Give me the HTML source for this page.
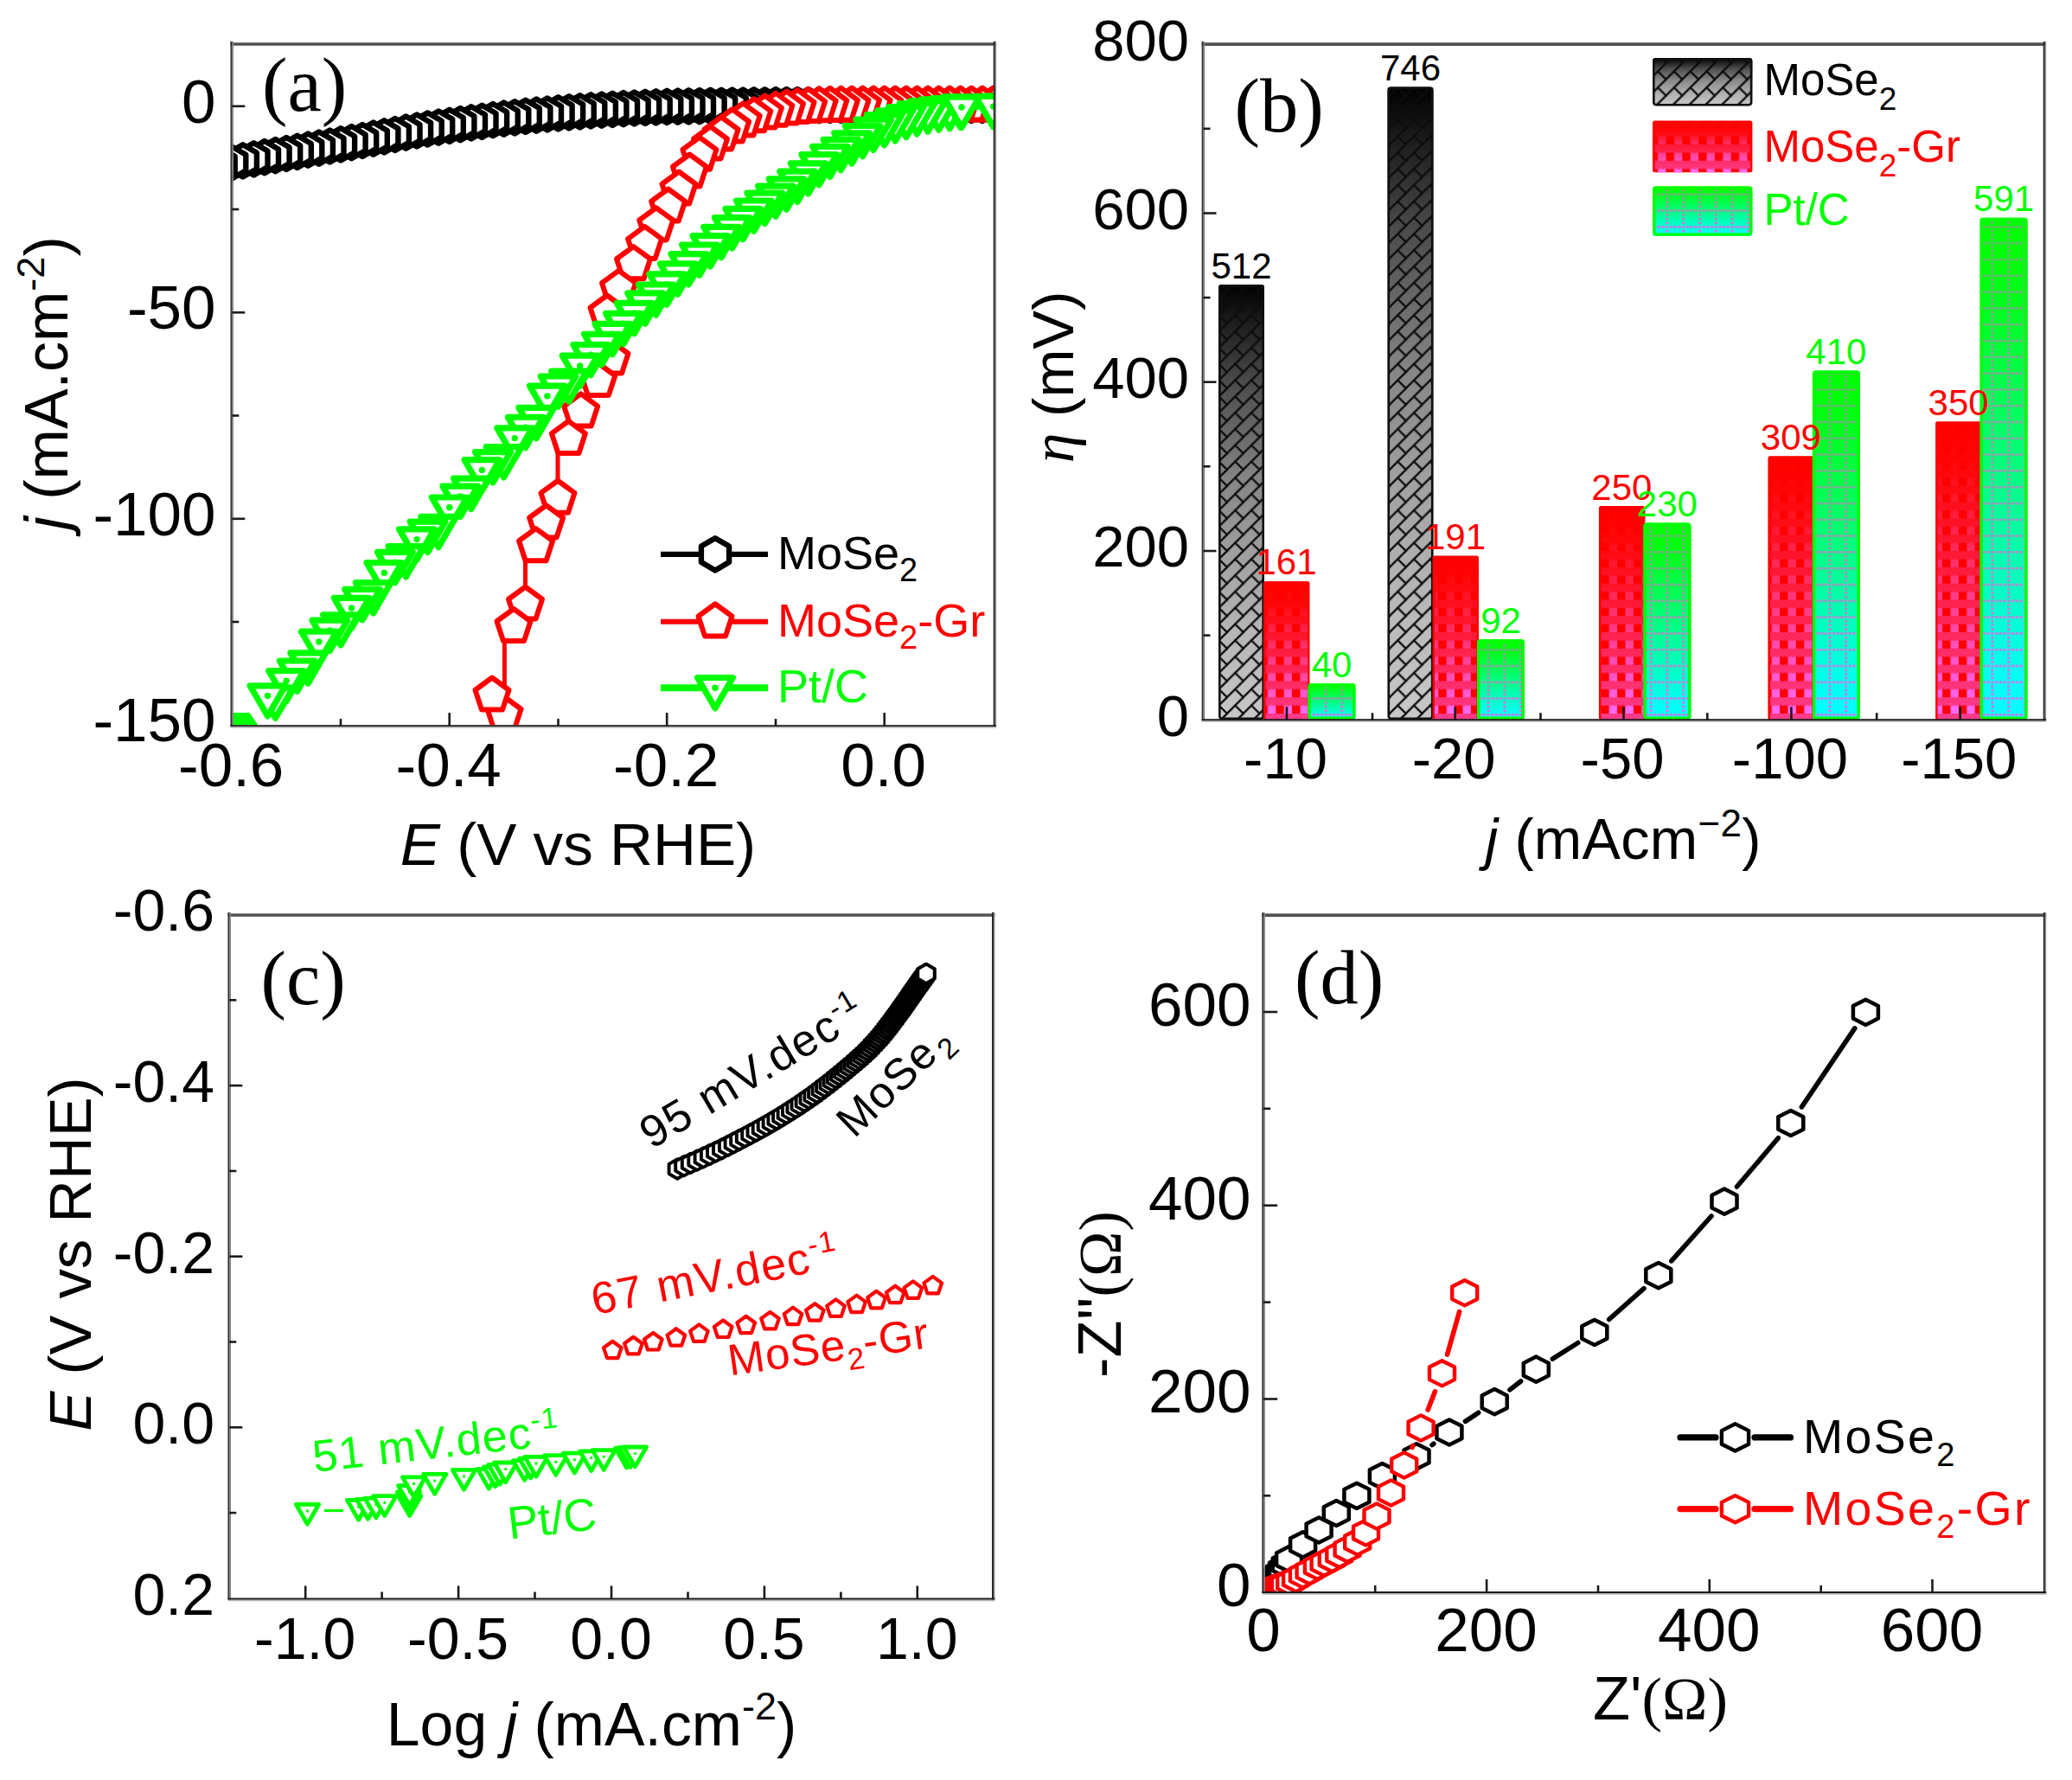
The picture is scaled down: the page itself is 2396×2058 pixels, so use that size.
<!DOCTYPE html><html><head><meta charset="utf-8"><title>HER figure</title><style>html,body{margin:0;padding:0;background:#fff}svg{display:block}</style></head><body><svg width="2396" height="2058" viewBox="0 0 2396 2058"><rect width="2396" height="2058" fill="#fff"/><defs><clipPath id="clipA"><rect x="268.3" y="51" width="882" height="787.3"/></clipPath></defs><g clip-path="url(#clipA)"><polyline points="1161,121.5 1148.5,121.5 1135.9,121.5 1123.3,121.5 1110.7,121.5 1098.2,121.5 1085.6,121.5 1073,121.5 1060.4,121.5 1047.9,121.5 1035.3,121.5 1022.7,121.5 1010.1,121.5 997.6,121.5 985,121.5 972.4,121.5 959.8,121.5 947.2,121.6 934.7,121.6 922.1,121.6 909.5,121.6 897,121.7 884.4,121.8 871.8,121.9 859.2,122 846.7,122.2 834.1,122.3 821.5,122.4 808.9,122.6 796.4,122.8 783.8,123.1 771.2,123.4 758.6,123.9 746.1,124.4 733.5,125 720.9,125.6 708.3,126.3 695.8,127.1 683.2,127.9 670.6,128.8 658,129.8 645.5,130.9 632.9,132 620.3,133.2 607.7,134.4 595.2,135.8 582.6,137.2 570,138.7 557.4,140.3 544.9,141.9 532.3,143.6 519.7,145.3 507.1,147.1 494.6,149 482,151 469.4,153.2 456.8,155.5 444.3,157.8 431.7,160.2 419.1,162.5 406.5,164.7 394,166.9 381.4,169 368.8,171.1 356.2,173.2 343.7,175.4 331.1,177.5 318.5,179.6 305.9,181.7 293.4,183.8 280.8,185.9 268.2,188 255.6,190.1" fill="none" stroke="#000000" stroke-width="6" stroke-linejoin="round" stroke-linecap="butt" /><polygon points="1161,102.9 1144.9,112.2 1144.9,130.8 1161,140.1 1177.1,130.8 1177.1,112.2" fill="#fff" stroke="#000000" stroke-width="6.4" stroke-linejoin="round"/><polygon points="1148.5,102.9 1132.3,112.2 1132.3,130.8 1148.5,140.1 1164.6,130.8 1164.6,112.2" fill="#fff" stroke="#000000" stroke-width="6.4" stroke-linejoin="round"/><polygon points="1135.9,102.9 1119.8,112.2 1119.8,130.8 1135.9,140.1 1152,130.8 1152,112.2" fill="#fff" stroke="#000000" stroke-width="6.4" stroke-linejoin="round"/><polygon points="1123.3,102.9 1107.2,112.2 1107.2,130.8 1123.3,140.1 1139.4,130.8 1139.4,112.2" fill="#fff" stroke="#000000" stroke-width="6.4" stroke-linejoin="round"/><polygon points="1110.7,102.9 1094.6,112.2 1094.6,130.8 1110.7,140.1 1126.8,130.8 1126.8,112.2" fill="#fff" stroke="#000000" stroke-width="6.4" stroke-linejoin="round"/><polygon points="1098.2,102.9 1082,112.2 1082,130.8 1098.2,140.1 1114.3,130.8 1114.3,112.2" fill="#fff" stroke="#000000" stroke-width="6.4" stroke-linejoin="round"/><polygon points="1085.6,102.9 1069.5,112.2 1069.5,130.8 1085.6,140.1 1101.7,130.8 1101.7,112.2" fill="#fff" stroke="#000000" stroke-width="6.4" stroke-linejoin="round"/><polygon points="1073,102.9 1056.9,112.2 1056.9,130.8 1073,140.1 1089.1,130.8 1089.1,112.2" fill="#fff" stroke="#000000" stroke-width="6.4" stroke-linejoin="round"/><polygon points="1060.4,102.9 1044.3,112.2 1044.3,130.8 1060.4,140.1 1076.5,130.8 1076.5,112.2" fill="#fff" stroke="#000000" stroke-width="6.4" stroke-linejoin="round"/><polygon points="1047.9,102.9 1031.7,112.2 1031.7,130.8 1047.9,140.1 1064,130.8 1064,112.2" fill="#fff" stroke="#000000" stroke-width="6.4" stroke-linejoin="round"/><polygon points="1035.3,102.9 1019.2,112.2 1019.2,130.8 1035.3,140.1 1051.4,130.8 1051.4,112.2" fill="#fff" stroke="#000000" stroke-width="6.4" stroke-linejoin="round"/><polygon points="1022.7,102.9 1006.6,112.2 1006.6,130.8 1022.7,140.1 1038.8,130.8 1038.8,112.2" fill="#fff" stroke="#000000" stroke-width="6.4" stroke-linejoin="round"/><polygon points="1010.1,102.9 994,112.2 994,130.8 1010.1,140.1 1026.2,130.8 1026.2,112.2" fill="#fff" stroke="#000000" stroke-width="6.4" stroke-linejoin="round"/><polygon points="997.6,102.9 981.4,112.2 981.4,130.8 997.6,140.1 1013.7,130.8 1013.7,112.2" fill="#fff" stroke="#000000" stroke-width="6.4" stroke-linejoin="round"/><polygon points="985,102.9 968.9,112.2 968.9,130.8 985,140.1 1001.1,130.8 1001.1,112.2" fill="#fff" stroke="#000000" stroke-width="6.4" stroke-linejoin="round"/><polygon points="972.4,102.9 956.3,112.2 956.3,130.8 972.4,140.1 988.5,130.8 988.5,112.2" fill="#fff" stroke="#000000" stroke-width="6.4" stroke-linejoin="round"/><polygon points="959.8,102.9 943.7,112.2 943.7,130.8 959.8,140.1 975.9,130.8 975.9,112.2" fill="#fff" stroke="#000000" stroke-width="6.4" stroke-linejoin="round"/><polygon points="947.2,103 931.1,112.3 931.1,130.9 947.2,140.2 963.4,130.9 963.4,112.3" fill="#fff" stroke="#000000" stroke-width="6.4" stroke-linejoin="round"/><polygon points="934.7,103 918.6,112.3 918.6,130.9 934.7,140.2 950.8,130.9 950.8,112.3" fill="#fff" stroke="#000000" stroke-width="6.4" stroke-linejoin="round"/><polygon points="922.1,103 906,112.3 906,130.9 922.1,140.2 938.2,130.9 938.2,112.3" fill="#fff" stroke="#000000" stroke-width="6.4" stroke-linejoin="round"/><polygon points="909.5,103 893.4,112.3 893.4,130.9 909.5,140.2 925.6,130.9 925.6,112.3" fill="#fff" stroke="#000000" stroke-width="6.4" stroke-linejoin="round"/><polygon points="897,103.1 880.8,112.4 880.8,131 897,140.3 913.1,131 913.1,112.4" fill="#fff" stroke="#000000" stroke-width="6.4" stroke-linejoin="round"/><polygon points="884.4,103.2 868.3,112.5 868.3,131.1 884.4,140.4 900.5,131.1 900.5,112.5" fill="#fff" stroke="#000000" stroke-width="6.4" stroke-linejoin="round"/><polygon points="871.8,103.3 855.7,112.6 855.7,131.2 871.8,140.5 887.9,131.2 887.9,112.6" fill="#fff" stroke="#000000" stroke-width="6.4" stroke-linejoin="round"/><polygon points="859.2,103.4 843.1,112.7 843.1,131.3 859.2,140.6 875.3,131.3 875.3,112.7" fill="#fff" stroke="#000000" stroke-width="6.4" stroke-linejoin="round"/><polygon points="846.7,103.6 830.5,112.9 830.5,131.5 846.7,140.8 862.8,131.5 862.8,112.9" fill="#fff" stroke="#000000" stroke-width="6.4" stroke-linejoin="round"/><polygon points="834.1,103.7 818,113 818,131.6 834.1,140.9 850.2,131.6 850.2,113" fill="#fff" stroke="#000000" stroke-width="6.4" stroke-linejoin="round"/><polygon points="821.5,103.8 805.4,113.1 805.4,131.7 821.5,141 837.6,131.7 837.6,113.1" fill="#fff" stroke="#000000" stroke-width="6.4" stroke-linejoin="round"/><polygon points="808.9,104 792.8,113.3 792.8,131.9 808.9,141.2 825,131.9 825,113.3" fill="#fff" stroke="#000000" stroke-width="6.4" stroke-linejoin="round"/><polygon points="796.4,104.2 780.2,113.5 780.2,132.1 796.4,141.4 812.5,132.1 812.5,113.5" fill="#fff" stroke="#000000" stroke-width="6.4" stroke-linejoin="round"/><polygon points="783.8,104.5 767.7,113.8 767.7,132.4 783.8,141.7 799.9,132.4 799.9,113.8" fill="#fff" stroke="#000000" stroke-width="6.4" stroke-linejoin="round"/><polygon points="771.2,104.8 755.1,114.1 755.1,132.7 771.2,142 787.3,132.7 787.3,114.1" fill="#fff" stroke="#000000" stroke-width="6.4" stroke-linejoin="round"/><polygon points="758.6,105.3 742.5,114.6 742.5,133.2 758.6,142.5 774.7,133.2 774.7,114.6" fill="#fff" stroke="#000000" stroke-width="6.4" stroke-linejoin="round"/><polygon points="746.1,105.8 729.9,115.1 729.9,133.7 746.1,143 762.2,133.7 762.2,115.1" fill="#fff" stroke="#000000" stroke-width="6.4" stroke-linejoin="round"/><polygon points="733.5,106.4 717.4,115.7 717.4,134.3 733.5,143.6 749.6,134.3 749.6,115.7" fill="#fff" stroke="#000000" stroke-width="6.4" stroke-linejoin="round"/><polygon points="720.9,107 704.8,116.3 704.8,134.9 720.9,144.2 737,134.9 737,116.3" fill="#fff" stroke="#000000" stroke-width="6.4" stroke-linejoin="round"/><polygon points="708.3,107.7 692.2,117 692.2,135.6 708.3,144.9 724.4,135.6 724.4,117" fill="#fff" stroke="#000000" stroke-width="6.4" stroke-linejoin="round"/><polygon points="695.8,108.5 679.6,117.8 679.6,136.4 695.8,145.7 711.9,136.4 711.9,117.8" fill="#fff" stroke="#000000" stroke-width="6.4" stroke-linejoin="round"/><polygon points="683.2,109.3 667.1,118.6 667.1,137.2 683.2,146.5 699.3,137.2 699.3,118.6" fill="#fff" stroke="#000000" stroke-width="6.4" stroke-linejoin="round"/><polygon points="670.6,110.2 654.5,119.5 654.5,138.1 670.6,147.4 686.7,138.1 686.7,119.5" fill="#fff" stroke="#000000" stroke-width="6.4" stroke-linejoin="round"/><polygon points="658,111.2 641.9,120.5 641.9,139.1 658,148.4 674.1,139.1 674.1,120.5" fill="#fff" stroke="#000000" stroke-width="6.4" stroke-linejoin="round"/><polygon points="645.5,112.3 629.3,121.6 629.3,140.2 645.5,149.5 661.6,140.2 661.6,121.6" fill="#fff" stroke="#000000" stroke-width="6.4" stroke-linejoin="round"/><polygon points="632.9,113.4 616.8,122.7 616.8,141.3 632.9,150.6 649,141.3 649,122.7" fill="#fff" stroke="#000000" stroke-width="6.4" stroke-linejoin="round"/><polygon points="620.3,114.6 604.2,123.9 604.2,142.5 620.3,151.8 636.4,142.5 636.4,123.9" fill="#fff" stroke="#000000" stroke-width="6.4" stroke-linejoin="round"/><polygon points="607.7,115.8 591.6,125.1 591.6,143.7 607.7,153 623.8,143.7 623.8,125.1" fill="#fff" stroke="#000000" stroke-width="6.4" stroke-linejoin="round"/><polygon points="595.2,117.2 579,126.5 579,145.1 595.2,154.4 611.3,145.1 611.3,126.5" fill="#fff" stroke="#000000" stroke-width="6.4" stroke-linejoin="round"/><polygon points="582.6,118.6 566.5,127.9 566.5,146.5 582.6,155.8 598.7,146.5 598.7,127.9" fill="#fff" stroke="#000000" stroke-width="6.4" stroke-linejoin="round"/><polygon points="570,120.1 553.9,129.4 553.9,148 570,157.3 586.1,148 586.1,129.4" fill="#fff" stroke="#000000" stroke-width="6.4" stroke-linejoin="round"/><polygon points="557.4,121.7 541.3,131 541.3,149.6 557.4,158.9 573.5,149.6 573.5,131" fill="#fff" stroke="#000000" stroke-width="6.4" stroke-linejoin="round"/><polygon points="544.9,123.3 528.7,132.6 528.7,151.2 544.9,160.5 561,151.2 561,132.6" fill="#fff" stroke="#000000" stroke-width="6.4" stroke-linejoin="round"/><polygon points="532.3,125 516.2,134.3 516.2,152.9 532.3,162.2 548.4,152.9 548.4,134.3" fill="#fff" stroke="#000000" stroke-width="6.4" stroke-linejoin="round"/><polygon points="519.7,126.7 503.6,136 503.6,154.6 519.7,163.9 535.8,154.6 535.8,136" fill="#fff" stroke="#000000" stroke-width="6.4" stroke-linejoin="round"/><polygon points="507.1,128.5 491,137.8 491,156.4 507.1,165.7 523.2,156.4 523.2,137.8" fill="#fff" stroke="#000000" stroke-width="6.4" stroke-linejoin="round"/><polygon points="494.6,130.4 478.4,139.7 478.4,158.3 494.6,167.6 510.7,158.3 510.7,139.7" fill="#fff" stroke="#000000" stroke-width="6.4" stroke-linejoin="round"/><polygon points="482,132.4 465.9,141.7 465.9,160.3 482,169.6 498.1,160.3 498.1,141.7" fill="#fff" stroke="#000000" stroke-width="6.4" stroke-linejoin="round"/><polygon points="469.4,134.6 453.3,143.9 453.3,162.5 469.4,171.8 485.5,162.5 485.5,143.9" fill="#fff" stroke="#000000" stroke-width="6.4" stroke-linejoin="round"/><polygon points="456.8,136.9 440.7,146.2 440.7,164.8 456.8,174.1 472.9,164.8 472.9,146.2" fill="#fff" stroke="#000000" stroke-width="6.4" stroke-linejoin="round"/><polygon points="444.3,139.2 428.1,148.5 428.1,167.1 444.3,176.4 460.4,167.1 460.4,148.5" fill="#fff" stroke="#000000" stroke-width="6.4" stroke-linejoin="round"/><polygon points="431.7,141.6 415.6,150.9 415.6,169.5 431.7,178.8 447.8,169.5 447.8,150.9" fill="#fff" stroke="#000000" stroke-width="6.4" stroke-linejoin="round"/><polygon points="419.1,143.9 403,153.2 403,171.8 419.1,181.1 435.2,171.8 435.2,153.2" fill="#fff" stroke="#000000" stroke-width="6.4" stroke-linejoin="round"/><polygon points="406.5,146.1 390.4,155.4 390.4,174 406.5,183.3 422.6,174 422.6,155.4" fill="#fff" stroke="#000000" stroke-width="6.4" stroke-linejoin="round"/><polygon points="394,148.3 377.8,157.6 377.8,176.2 394,185.5 410.1,176.2 410.1,157.6" fill="#fff" stroke="#000000" stroke-width="6.4" stroke-linejoin="round"/><polygon points="381.4,150.4 365.3,159.7 365.3,178.3 381.4,187.6 397.5,178.3 397.5,159.7" fill="#fff" stroke="#000000" stroke-width="6.4" stroke-linejoin="round"/><polygon points="368.8,152.5 352.7,161.8 352.7,180.4 368.8,189.7 384.9,180.4 384.9,161.8" fill="#fff" stroke="#000000" stroke-width="6.4" stroke-linejoin="round"/><polygon points="356.2,154.6 340.1,163.9 340.1,182.5 356.2,191.8 372.3,182.5 372.3,163.9" fill="#fff" stroke="#000000" stroke-width="6.4" stroke-linejoin="round"/><polygon points="343.7,156.8 327.5,166.1 327.5,184.7 343.7,194 359.8,184.7 359.8,166.1" fill="#fff" stroke="#000000" stroke-width="6.4" stroke-linejoin="round"/><polygon points="331.1,158.9 315,168.2 315,186.8 331.1,196.1 347.2,186.8 347.2,168.2" fill="#fff" stroke="#000000" stroke-width="6.4" stroke-linejoin="round"/><polygon points="318.5,161 302.4,170.3 302.4,188.9 318.5,198.2 334.6,188.9 334.6,170.3" fill="#fff" stroke="#000000" stroke-width="6.4" stroke-linejoin="round"/><polygon points="305.9,163.1 289.8,172.4 289.8,191 305.9,200.3 322,191 322,172.4" fill="#fff" stroke="#000000" stroke-width="6.4" stroke-linejoin="round"/><polygon points="293.4,165.2 277.2,174.5 277.2,193.1 293.4,202.4 309.5,193.1 309.5,174.5" fill="#fff" stroke="#000000" stroke-width="6.4" stroke-linejoin="round"/><polygon points="280.8,167.3 264.7,176.6 264.7,195.2 280.8,204.5 296.9,195.2 296.9,176.6" fill="#fff" stroke="#000000" stroke-width="6.4" stroke-linejoin="round"/><polygon points="268.2,169.4 252.1,178.7 252.1,197.3 268.2,206.6 284.3,197.3 284.3,178.7" fill="#fff" stroke="#000000" stroke-width="6.4" stroke-linejoin="round"/><polygon points="255.6,171.5 239.5,180.8 239.5,199.4 255.6,208.7 271.7,199.4 271.7,180.8" fill="#fff" stroke="#000000" stroke-width="6.4" stroke-linejoin="round"/><polyline points="1161,122 1148.5,122 1135.9,122 1123.3,122 1110.7,122 1098.2,122 1085.6,122 1073,122 1060.4,122 1047.9,122 1035.3,122 1022.7,122 1010.1,122 997.6,122 985,122 972.4,122.1 959.8,122.3 947.2,122.6 934.7,123.4 922.1,124.4 909.5,126 897,128.2 884.4,131 871.8,134.8 859.2,139.9 846.7,146.8 834.1,155.8 821.5,166.8 808.9,179.2 797.4,199 785,219 772.7,239 758.8,260.8 745.6,282.4 732.5,305.6 715.5,333.4 702,362 707,415 691.8,440.5 671.7,475.9 657.4,507.4 645,521 645,576.2 631.6,604.8 619.6,631.6 607.5,648 607.5,699 594,724.5 583.4,742 583.4,826" fill="none" stroke="#ff0000" stroke-width="5" stroke-linejoin="round" stroke-linecap="butt" /><polygon points="1161,101.5 1141.5,115.7 1149,138.6 1173.1,138.6 1180.5,115.7" fill="#fff" stroke="#ff0000" stroke-width="6" stroke-linejoin="round"/><polygon points="1148.5,101.5 1129,115.7 1136.4,138.6 1160.5,138.6 1167.9,115.7" fill="#fff" stroke="#ff0000" stroke-width="6" stroke-linejoin="round"/><polygon points="1135.9,101.5 1116.4,115.7 1123.8,138.6 1147.9,138.6 1155.4,115.7" fill="#fff" stroke="#ff0000" stroke-width="6" stroke-linejoin="round"/><polygon points="1123.3,101.5 1103.8,115.7 1111.3,138.6 1135.3,138.6 1142.8,115.7" fill="#fff" stroke="#ff0000" stroke-width="6" stroke-linejoin="round"/><polygon points="1110.7,101.5 1091.2,115.7 1098.7,138.6 1122.8,138.6 1130.2,115.7" fill="#fff" stroke="#ff0000" stroke-width="6" stroke-linejoin="round"/><polygon points="1098.2,101.5 1078.7,115.7 1086.1,138.6 1110.2,138.6 1117.6,115.7" fill="#fff" stroke="#ff0000" stroke-width="6" stroke-linejoin="round"/><polygon points="1085.6,101.5 1066.1,115.7 1073.5,138.6 1097.6,138.6 1105.1,115.7" fill="#fff" stroke="#ff0000" stroke-width="6" stroke-linejoin="round"/><polygon points="1073,101.5 1053.5,115.7 1061,138.6 1085,138.6 1092.5,115.7" fill="#fff" stroke="#ff0000" stroke-width="6" stroke-linejoin="round"/><polygon points="1060.4,101.5 1040.9,115.7 1048.4,138.6 1072.5,138.6 1079.9,115.7" fill="#fff" stroke="#ff0000" stroke-width="6" stroke-linejoin="round"/><polygon points="1047.9,101.5 1028.4,115.6 1035.8,138.6 1059.9,138.6 1067.3,115.6" fill="#fff" stroke="#ff0000" stroke-width="6" stroke-linejoin="round"/><polygon points="1035.3,101.5 1015.8,115.6 1023.2,138.6 1047.3,138.6 1054.8,115.6" fill="#fff" stroke="#ff0000" stroke-width="6" stroke-linejoin="round"/><polygon points="1022.7,101.5 1003.2,115.6 1010.7,138.6 1034.7,138.6 1042.2,115.6" fill="#fff" stroke="#ff0000" stroke-width="6" stroke-linejoin="round"/><polygon points="1010.1,101.5 990.6,115.7 998.1,138.6 1022.2,138.6 1029.6,115.7" fill="#fff" stroke="#ff0000" stroke-width="6" stroke-linejoin="round"/><polygon points="997.6,101.5 978.1,115.7 985.5,138.6 1009.6,138.6 1017,115.7" fill="#fff" stroke="#ff0000" stroke-width="6" stroke-linejoin="round"/><polygon points="985,101.5 965.5,115.7 972.9,138.6 997,138.6 1004.5,115.7" fill="#fff" stroke="#ff0000" stroke-width="6" stroke-linejoin="round"/><polygon points="972.4,101.6 952.9,115.8 960.4,138.7 984.4,138.7 991.9,115.8" fill="#fff" stroke="#ff0000" stroke-width="6" stroke-linejoin="round"/><polygon points="959.8,101.8 940.3,116 947.8,138.9 971.9,138.9 979.3,116" fill="#fff" stroke="#ff0000" stroke-width="6" stroke-linejoin="round"/><polygon points="947.2,102.1 927.8,116.3 935.2,139.2 959.3,139.2 966.7,116.3" fill="#fff" stroke="#ff0000" stroke-width="6" stroke-linejoin="round"/><polygon points="934.7,102.9 915.2,117.1 922.6,140 946.7,140 954.2,117.1" fill="#fff" stroke="#ff0000" stroke-width="6" stroke-linejoin="round"/><polygon points="922.1,103.9 902.6,118.1 910.1,141 934.1,141 941.6,118.1" fill="#fff" stroke="#ff0000" stroke-width="6" stroke-linejoin="round"/><polygon points="909.5,105.5 890,119.7 897.5,142.6 921.6,142.6 929,119.7" fill="#fff" stroke="#ff0000" stroke-width="6" stroke-linejoin="round"/><polygon points="897,107.7 877.5,121.9 884.9,144.8 909,144.8 916.4,121.9" fill="#fff" stroke="#ff0000" stroke-width="6" stroke-linejoin="round"/><polygon points="884.4,110.5 864.9,124.6 872.3,147.6 896.4,147.6 903.9,124.6" fill="#fff" stroke="#ff0000" stroke-width="6" stroke-linejoin="round"/><polygon points="871.8,114.3 852.3,128.4 859.8,151.3 883.8,151.3 891.3,128.4" fill="#fff" stroke="#ff0000" stroke-width="6" stroke-linejoin="round"/><polygon points="859.2,119.4 839.7,133.6 847.2,156.5 871.3,156.5 878.7,133.6" fill="#fff" stroke="#ff0000" stroke-width="6" stroke-linejoin="round"/><polygon points="846.7,126.3 827.2,140.5 834.6,163.4 858.7,163.4 866.1,140.5" fill="#fff" stroke="#ff0000" stroke-width="6" stroke-linejoin="round"/><polygon points="834.1,135.3 814.6,149.5 822,172.4 846.1,172.4 853.6,149.5" fill="#fff" stroke="#ff0000" stroke-width="6" stroke-linejoin="round"/><polygon points="821.5,146.3 802,160.5 809.5,183.4 833.5,183.4 841,160.5" fill="#fff" stroke="#ff0000" stroke-width="6" stroke-linejoin="round"/><polygon points="808.9,158.7 789.4,172.9 796.9,195.8 821,195.8 828.4,172.9" fill="#fff" stroke="#ff0000" stroke-width="6" stroke-linejoin="round"/><polygon points="797.4,178.5 777.9,192.7 785.4,215.6 809.4,215.6 816.9,192.7" fill="#fff" stroke="#ff0000" stroke-width="6" stroke-linejoin="round"/><polygon points="785,198.5 765.5,212.7 773,235.6 797,235.6 804.5,212.7" fill="#fff" stroke="#ff0000" stroke-width="6" stroke-linejoin="round"/><polygon points="772.7,218.5 753.2,232.7 760.7,255.6 784.7,255.6 792.2,232.7" fill="#fff" stroke="#ff0000" stroke-width="6" stroke-linejoin="round"/><polygon points="758.8,240.3 739.3,254.5 746.8,277.4 770.8,277.4 778.3,254.5" fill="#fff" stroke="#ff0000" stroke-width="6" stroke-linejoin="round"/><polygon points="745.6,261.9 726.1,276.1 733.6,299 757.6,299 765.1,276.1" fill="#fff" stroke="#ff0000" stroke-width="6" stroke-linejoin="round"/><polygon points="732.5,285.1 713,299.3 720.5,322.2 744.5,322.2 752,299.3" fill="#fff" stroke="#ff0000" stroke-width="6" stroke-linejoin="round"/><polygon points="715.5,312.9 696,327.1 703.5,350 727.5,350 735,327.1" fill="#fff" stroke="#ff0000" stroke-width="6" stroke-linejoin="round"/><polygon points="702,341.5 682.5,355.7 690,378.6 714,378.6 721.5,355.7" fill="#fff" stroke="#ff0000" stroke-width="6" stroke-linejoin="round"/><polygon points="707,394.5 687.5,408.7 695,431.6 719,431.6 726.5,408.7" fill="#fff" stroke="#ff0000" stroke-width="6" stroke-linejoin="round"/><polygon points="691.8,420 672.3,434.2 679.8,457.1 703.8,457.1 711.3,434.2" fill="#fff" stroke="#ff0000" stroke-width="6" stroke-linejoin="round"/><polygon points="671.7,455.4 652.2,469.6 659.7,492.5 683.7,492.5 691.2,469.6" fill="#fff" stroke="#ff0000" stroke-width="6" stroke-linejoin="round"/><polygon points="657.4,486.9 637.9,501.1 645.4,524 669.4,524 676.9,501.1" fill="#fff" stroke="#ff0000" stroke-width="6" stroke-linejoin="round"/><polygon points="645,555.7 625.5,569.9 633,592.8 657,592.8 664.5,569.9" fill="#fff" stroke="#ff0000" stroke-width="6" stroke-linejoin="round"/><polygon points="631.6,584.3 612.1,598.5 619.6,621.4 643.6,621.4 651.1,598.5" fill="#fff" stroke="#ff0000" stroke-width="6" stroke-linejoin="round"/><polygon points="619.6,611.1 600.1,625.3 607.6,648.2 631.6,648.2 639.1,625.3" fill="#fff" stroke="#ff0000" stroke-width="6" stroke-linejoin="round"/><polygon points="607.5,678.5 588,692.7 595.5,715.6 619.5,715.6 627,692.7" fill="#fff" stroke="#ff0000" stroke-width="6" stroke-linejoin="round"/><polygon points="594,704 574.5,718.2 582,741.1 606,741.1 613.5,718.2" fill="#fff" stroke="#ff0000" stroke-width="6" stroke-linejoin="round"/><polygon points="583,805.5 563.5,819.7 571,842.6 595,842.6 602.5,819.7" fill="#fff" stroke="#ff0000" stroke-width="6" stroke-linejoin="round"/><polygon points="569,783.5 549.5,797.7 557,820.6 581,820.6 588.5,797.7" fill="#fff" stroke="#ff0000" stroke-width="6" stroke-linejoin="round"/><polygon points="260,824 288.5,824 299.5,840 260,840" fill="#00ff00"/><polyline points="1161,123 1148.5,123.1 1110.7,123.9 1098.2,125.2 1085.6,126.7 1073,128.6 1060.4,131.4 1047.9,135.2 1035.3,139.5 1022.7,144.3 1010.1,149.9 997.6,157.2 985,165.6 972.4,173.2 959.8,181 947.2,190.3 934.7,200.5 922.1,209.9 909.5,218.7 897,226.8 884.4,235 871.8,243.8 859.2,253.1 846.7,263.4 834.1,274.1 821.5,284.4 808.9,294.7 796.4,305.5 783.8,316.7 771.2,328.6 758.6,340.8 746.1,350.6 733.5,362.1 720.9,374.1 708.3,386.1 695.8,398.1 683.2,410.2 670.6,422.9 658,440.7 645.5,446.8 632.9,457.9 620.3,483.1 607.7,494.2 595.2,506.6 582.6,528.5 570,534.4 557.4,543.4 544.9,564.9 532.3,573.9 519.7,586.8 507.1,609.1 494.6,614.9 482,623.6 469.4,643.4 456.8,650.1 444.3,662.3 431.7,685.5 419.1,693.1 406.5,703 394,722.5 381.4,728.9 368.8,742 356.2,766.7 343.7,775.8 331.1,787.3 318.5,806.8 309.5,804.5" fill="none" stroke="#00ff00" stroke-width="7" stroke-linejoin="round" stroke-linecap="butt" /><polygon points="1161,146.5 1181.4,111.2 1140.7,111.2" fill="#fff" stroke="#00ff00" stroke-width="7.2" stroke-linejoin="round"/><circle cx="1161" cy="123" r="3.7" fill="#00ff00"/><polygon points="1148.5,146.6 1168.8,111.4 1128.1,111.4" fill="#fff" stroke="#00ff00" stroke-width="7.2" stroke-linejoin="round"/><circle cx="1148.5" cy="123.1" r="3.7" fill="#00ff00"/><polygon points="1110.7,147.4 1131.1,112.2 1090.4,112.2" fill="#fff" stroke="#00ff00" stroke-width="7.2" stroke-linejoin="round"/><circle cx="1110.7" cy="123.9" r="3.7" fill="#00ff00"/><polygon points="1098.2,148.7 1118.5,113.5 1077.8,113.5" fill="#fff" stroke="#00ff00" stroke-width="7.2" stroke-linejoin="round"/><circle cx="1098.2" cy="125.2" r="3.7" fill="#00ff00"/><polygon points="1085.6,150.2 1105.9,114.9 1065.2,114.9" fill="#fff" stroke="#00ff00" stroke-width="7.2" stroke-linejoin="round"/><circle cx="1085.6" cy="126.7" r="3.7" fill="#00ff00"/><polygon points="1073,152.1 1093.4,116.8 1052.6,116.8" fill="#fff" stroke="#00ff00" stroke-width="7.2" stroke-linejoin="round"/><circle cx="1073" cy="128.6" r="3.7" fill="#00ff00"/><polygon points="1060.4,154.9 1080.8,119.7 1040.1,119.7" fill="#fff" stroke="#00ff00" stroke-width="7.2" stroke-linejoin="round"/><circle cx="1060.4" cy="131.4" r="3.7" fill="#00ff00"/><polygon points="1047.9,158.7 1068.2,123.5 1027.5,123.5" fill="#fff" stroke="#00ff00" stroke-width="7.2" stroke-linejoin="round"/><circle cx="1047.9" cy="135.2" r="3.7" fill="#00ff00"/><polygon points="1035.3,163 1055.6,127.8 1014.9,127.8" fill="#fff" stroke="#00ff00" stroke-width="7.2" stroke-linejoin="round"/><circle cx="1035.3" cy="139.5" r="3.7" fill="#00ff00"/><polygon points="1022.7,167.8 1043.1,132.6 1002.3,132.6" fill="#fff" stroke="#00ff00" stroke-width="7.2" stroke-linejoin="round"/><circle cx="1022.7" cy="144.3" r="3.7" fill="#00ff00"/><polygon points="1010.1,173.4 1030.5,138.2 989.8,138.2" fill="#fff" stroke="#00ff00" stroke-width="7.2" stroke-linejoin="round"/><circle cx="1010.1" cy="149.9" r="3.7" fill="#00ff00"/><polygon points="997.6,180.7 1017.9,145.5 977.2,145.5" fill="#fff" stroke="#00ff00" stroke-width="7.2" stroke-linejoin="round"/><circle cx="997.6" cy="157.2" r="3.7" fill="#00ff00"/><polygon points="985,189.1 1005.3,153.8 964.6,153.8" fill="#fff" stroke="#00ff00" stroke-width="7.2" stroke-linejoin="round"/><circle cx="985" cy="165.6" r="3.7" fill="#00ff00"/><polygon points="972.4,196.7 992.8,161.4 952,161.4" fill="#fff" stroke="#00ff00" stroke-width="7.2" stroke-linejoin="round"/><circle cx="972.4" cy="173.2" r="3.7" fill="#00ff00"/><polygon points="959.8,204.5 980.2,169.3 939.5,169.3" fill="#fff" stroke="#00ff00" stroke-width="7.2" stroke-linejoin="round"/><circle cx="959.8" cy="181" r="3.7" fill="#00ff00"/><polygon points="947.2,213.8 967.6,178.6 926.9,178.6" fill="#fff" stroke="#00ff00" stroke-width="7.2" stroke-linejoin="round"/><circle cx="947.2" cy="190.3" r="3.7" fill="#00ff00"/><polygon points="934.7,224 955,188.8 914.3,188.8" fill="#fff" stroke="#00ff00" stroke-width="7.2" stroke-linejoin="round"/><circle cx="934.7" cy="200.5" r="3.7" fill="#00ff00"/><polygon points="922.1,233.4 942.5,198.2 901.7,198.2" fill="#fff" stroke="#00ff00" stroke-width="7.2" stroke-linejoin="round"/><circle cx="922.1" cy="209.9" r="3.7" fill="#00ff00"/><polygon points="909.5,242.2 929.9,206.9 889.2,206.9" fill="#fff" stroke="#00ff00" stroke-width="7.2" stroke-linejoin="round"/><circle cx="909.5" cy="218.7" r="3.7" fill="#00ff00"/><polygon points="897,250.3 917.3,215.1 876.6,215.1" fill="#fff" stroke="#00ff00" stroke-width="7.2" stroke-linejoin="round"/><circle cx="897" cy="226.8" r="3.7" fill="#00ff00"/><polygon points="884.4,258.5 904.7,223.2 864,223.2" fill="#fff" stroke="#00ff00" stroke-width="7.2" stroke-linejoin="round"/><circle cx="884.4" cy="235" r="3.7" fill="#00ff00"/><polygon points="871.8,267.3 892.2,232 851.4,232" fill="#fff" stroke="#00ff00" stroke-width="7.2" stroke-linejoin="round"/><circle cx="871.8" cy="243.8" r="3.7" fill="#00ff00"/><polygon points="859.2,276.6 879.6,241.4 838.9,241.4" fill="#fff" stroke="#00ff00" stroke-width="7.2" stroke-linejoin="round"/><circle cx="859.2" cy="253.1" r="3.7" fill="#00ff00"/><polygon points="846.7,286.9 867,251.6 826.3,251.6" fill="#fff" stroke="#00ff00" stroke-width="7.2" stroke-linejoin="round"/><circle cx="846.7" cy="263.4" r="3.7" fill="#00ff00"/><polygon points="834.1,297.6 854.4,262.4 813.7,262.4" fill="#fff" stroke="#00ff00" stroke-width="7.2" stroke-linejoin="round"/><circle cx="834.1" cy="274.1" r="3.7" fill="#00ff00"/><polygon points="821.5,307.9 841.9,272.7 801.1,272.7" fill="#fff" stroke="#00ff00" stroke-width="7.2" stroke-linejoin="round"/><circle cx="821.5" cy="284.4" r="3.7" fill="#00ff00"/><polygon points="808.9,318.2 829.3,283 788.6,283" fill="#fff" stroke="#00ff00" stroke-width="7.2" stroke-linejoin="round"/><circle cx="808.9" cy="294.7" r="3.7" fill="#00ff00"/><polygon points="796.4,329 816.7,293.7 776,293.7" fill="#fff" stroke="#00ff00" stroke-width="7.2" stroke-linejoin="round"/><circle cx="796.4" cy="305.5" r="3.7" fill="#00ff00"/><polygon points="783.8,340.2 804.1,304.9 763.4,304.9" fill="#fff" stroke="#00ff00" stroke-width="7.2" stroke-linejoin="round"/><circle cx="783.8" cy="316.7" r="3.7" fill="#00ff00"/><polygon points="771.2,352.1 791.6,316.8 750.8,316.8" fill="#fff" stroke="#00ff00" stroke-width="7.2" stroke-linejoin="round"/><circle cx="771.2" cy="328.6" r="3.7" fill="#00ff00"/><polygon points="758.6,364.3 779,329 738.3,329" fill="#fff" stroke="#00ff00" stroke-width="7.2" stroke-linejoin="round"/><circle cx="758.6" cy="340.8" r="3.7" fill="#00ff00"/><polygon points="746.1,374.1 766.4,338.9 725.7,338.9" fill="#fff" stroke="#00ff00" stroke-width="7.2" stroke-linejoin="round"/><circle cx="746.1" cy="350.6" r="3.7" fill="#00ff00"/><polygon points="733.5,385.6 753.8,350.3 713.1,350.3" fill="#fff" stroke="#00ff00" stroke-width="7.2" stroke-linejoin="round"/><circle cx="733.5" cy="362.1" r="3.7" fill="#00ff00"/><polygon points="720.9,397.6 741.3,362.3 700.5,362.3" fill="#fff" stroke="#00ff00" stroke-width="7.2" stroke-linejoin="round"/><circle cx="720.9" cy="374.1" r="3.7" fill="#00ff00"/><polygon points="708.3,409.6 728.7,374.4 688,374.4" fill="#fff" stroke="#00ff00" stroke-width="7.2" stroke-linejoin="round"/><circle cx="708.3" cy="386.1" r="3.7" fill="#00ff00"/><polygon points="695.8,421.6 716.1,386.3 675.4,386.3" fill="#fff" stroke="#00ff00" stroke-width="7.2" stroke-linejoin="round"/><circle cx="695.8" cy="398.1" r="3.7" fill="#00ff00"/><polygon points="683.2,433.7 703.5,398.5 662.8,398.5" fill="#fff" stroke="#00ff00" stroke-width="7.2" stroke-linejoin="round"/><circle cx="683.2" cy="410.2" r="3.7" fill="#00ff00"/><polygon points="670.6,446.4 691,411.2 650.2,411.2" fill="#fff" stroke="#00ff00" stroke-width="7.2" stroke-linejoin="round"/><circle cx="670.6" cy="422.9" r="3.7" fill="#00ff00"/><polygon points="658,464.2 678.4,429 637.7,429" fill="#fff" stroke="#00ff00" stroke-width="7.2" stroke-linejoin="round"/><circle cx="658" cy="440.7" r="3.7" fill="#00ff00"/><polygon points="645.5,470.3 665.8,435 625.1,435" fill="#fff" stroke="#00ff00" stroke-width="7.2" stroke-linejoin="round"/><circle cx="645.5" cy="446.8" r="3.7" fill="#00ff00"/><polygon points="632.9,481.4 653.2,446.1 612.5,446.1" fill="#fff" stroke="#00ff00" stroke-width="7.2" stroke-linejoin="round"/><circle cx="632.9" cy="457.9" r="3.7" fill="#00ff00"/><polygon points="620.3,506.6 640.7,471.4 599.9,471.4" fill="#fff" stroke="#00ff00" stroke-width="7.2" stroke-linejoin="round"/><circle cx="620.3" cy="483.1" r="3.7" fill="#00ff00"/><polygon points="607.7,517.7 628.1,482.4 587.4,482.4" fill="#fff" stroke="#00ff00" stroke-width="7.2" stroke-linejoin="round"/><circle cx="607.7" cy="494.2" r="3.7" fill="#00ff00"/><polygon points="595.2,530.1 615.5,494.9 574.8,494.9" fill="#fff" stroke="#00ff00" stroke-width="7.2" stroke-linejoin="round"/><circle cx="595.2" cy="506.6" r="3.7" fill="#00ff00"/><polygon points="582.6,552 602.9,516.7 562.2,516.7" fill="#fff" stroke="#00ff00" stroke-width="7.2" stroke-linejoin="round"/><circle cx="582.6" cy="528.5" r="3.7" fill="#00ff00"/><polygon points="570,557.9 590.4,522.7 549.6,522.7" fill="#fff" stroke="#00ff00" stroke-width="7.2" stroke-linejoin="round"/><circle cx="570" cy="534.4" r="3.7" fill="#00ff00"/><polygon points="557.4,566.9 577.8,531.6 537.1,531.6" fill="#fff" stroke="#00ff00" stroke-width="7.2" stroke-linejoin="round"/><circle cx="557.4" cy="543.4" r="3.7" fill="#00ff00"/><polygon points="544.9,588.4 565.2,553.1 524.5,553.1" fill="#fff" stroke="#00ff00" stroke-width="7.2" stroke-linejoin="round"/><circle cx="544.9" cy="564.9" r="3.7" fill="#00ff00"/><polygon points="532.3,597.4 552.6,562.1 511.9,562.1" fill="#fff" stroke="#00ff00" stroke-width="7.2" stroke-linejoin="round"/><circle cx="532.3" cy="573.9" r="3.7" fill="#00ff00"/><polygon points="519.7,610.3 540.1,575 499.3,575" fill="#fff" stroke="#00ff00" stroke-width="7.2" stroke-linejoin="round"/><circle cx="519.7" cy="586.8" r="3.7" fill="#00ff00"/><polygon points="507.1,632.6 527.5,597.4 486.8,597.4" fill="#fff" stroke="#00ff00" stroke-width="7.2" stroke-linejoin="round"/><circle cx="507.1" cy="609.1" r="3.7" fill="#00ff00"/><polygon points="494.6,638.4 514.9,603.2 474.2,603.2" fill="#fff" stroke="#00ff00" stroke-width="7.2" stroke-linejoin="round"/><circle cx="494.6" cy="614.9" r="3.7" fill="#00ff00"/><polygon points="482,647.1 502.3,611.9 461.6,611.9" fill="#fff" stroke="#00ff00" stroke-width="7.2" stroke-linejoin="round"/><circle cx="482" cy="623.6" r="3.7" fill="#00ff00"/><polygon points="469.4,666.9 489.8,631.6 449,631.6" fill="#fff" stroke="#00ff00" stroke-width="7.2" stroke-linejoin="round"/><circle cx="469.4" cy="643.4" r="3.7" fill="#00ff00"/><polygon points="456.8,673.6 477.2,638.4 436.5,638.4" fill="#fff" stroke="#00ff00" stroke-width="7.2" stroke-linejoin="round"/><circle cx="456.8" cy="650.1" r="3.7" fill="#00ff00"/><polygon points="444.3,685.8 464.6,650.5 423.9,650.5" fill="#fff" stroke="#00ff00" stroke-width="7.2" stroke-linejoin="round"/><circle cx="444.3" cy="662.3" r="3.7" fill="#00ff00"/><polygon points="431.7,709 452,673.7 411.3,673.7" fill="#fff" stroke="#00ff00" stroke-width="7.2" stroke-linejoin="round"/><circle cx="431.7" cy="685.5" r="3.7" fill="#00ff00"/><polygon points="419.1,716.6 439.5,681.3 398.7,681.3" fill="#fff" stroke="#00ff00" stroke-width="7.2" stroke-linejoin="round"/><circle cx="419.1" cy="693.1" r="3.7" fill="#00ff00"/><polygon points="406.5,726.5 426.9,691.3 386.2,691.3" fill="#fff" stroke="#00ff00" stroke-width="7.2" stroke-linejoin="round"/><circle cx="406.5" cy="703" r="3.7" fill="#00ff00"/><polygon points="394,746 414.3,710.8 373.6,710.8" fill="#fff" stroke="#00ff00" stroke-width="7.2" stroke-linejoin="round"/><circle cx="394" cy="722.5" r="3.7" fill="#00ff00"/><polygon points="381.4,752.4 401.7,717.2 361,717.2" fill="#fff" stroke="#00ff00" stroke-width="7.2" stroke-linejoin="round"/><circle cx="381.4" cy="728.9" r="3.7" fill="#00ff00"/><polygon points="368.8,765.5 389.2,730.2 348.4,730.2" fill="#fff" stroke="#00ff00" stroke-width="7.2" stroke-linejoin="round"/><circle cx="368.8" cy="742" r="3.7" fill="#00ff00"/><polygon points="356.2,790.2 376.6,754.9 335.9,754.9" fill="#fff" stroke="#00ff00" stroke-width="7.2" stroke-linejoin="round"/><circle cx="356.2" cy="766.7" r="3.7" fill="#00ff00"/><polygon points="343.7,799.3 364,764 323.3,764" fill="#fff" stroke="#00ff00" stroke-width="7.2" stroke-linejoin="round"/><circle cx="343.7" cy="775.8" r="3.7" fill="#00ff00"/><polygon points="331.1,810.8 351.4,775.5 310.7,775.5" fill="#fff" stroke="#00ff00" stroke-width="7.2" stroke-linejoin="round"/><circle cx="331.1" cy="787.3" r="3.7" fill="#00ff00"/><polygon points="318.5,830.3 338.9,795.1 298.1,795.1" fill="#fff" stroke="#00ff00" stroke-width="7.2" stroke-linejoin="round"/><circle cx="318.5" cy="806.8" r="3.7" fill="#00ff00"/><polygon points="309.5,828 329.9,792.8 289.1,792.8" fill="#fff" stroke="#00ff00" stroke-width="7.2" stroke-linejoin="round"/><circle cx="309.5" cy="804.5" r="3.7" fill="#00ff00"/><polygon points="1112,147.5 1132.4,112.2 1091.6,112.2" fill="#fff" stroke="#00ff00" stroke-width="7.2" stroke-linejoin="round"/><circle cx="1112" cy="124" r="3.7" fill="#00ff00"/></g><line x1="266.5" y1="51" x2="1152.1" y2="51" stroke="#505050" stroke-width="3.7"/><line x1="269.2" y1="47.8" x2="269.2" y2="840.1" stroke="#8a8a8a" stroke-width="1.7"/><line x1="267.4" y1="47.8" x2="267.4" y2="840.1" stroke="#333333" stroke-width="1.9"/><line x1="1151.4" y1="47.8" x2="1151.4" y2="840.1" stroke="#909090" stroke-width="1.4"/><line x1="1149.7" y1="47.8" x2="1149.7" y2="840.1" stroke="#2a2a2a" stroke-width="2.0"/><line x1="266.5" y1="840.9" x2="1152.1" y2="840.9" stroke="#b4b4b4" stroke-width="1.7"/><line x1="266.5" y1="839.1" x2="1152.1" y2="839.1" stroke="#1c1c1c" stroke-width="1.9"/><line x1="268.3" y1="122.8" x2="283.3" y2="122.8" stroke="#1a1a1a" stroke-width="2.6"/><line x1="268.3" y1="361.3" x2="283.3" y2="361.3" stroke="#1a1a1a" stroke-width="2.6"/><line x1="268.3" y1="599.8" x2="283.3" y2="599.8" stroke="#1a1a1a" stroke-width="2.6"/><line x1="268.3" y1="242" x2="276.3" y2="242" stroke="#1a1a1a" stroke-width="2.6"/><line x1="268.3" y1="480.5" x2="276.3" y2="480.5" stroke="#1a1a1a" stroke-width="2.6"/><line x1="268.3" y1="719" x2="276.3" y2="719" stroke="#1a1a1a" stroke-width="2.6"/><line x1="519.7" y1="839.1" x2="519.7" y2="824.1" stroke="#1a1a1a" stroke-width="2.6"/><line x1="771.2" y1="839.1" x2="771.2" y2="824.1" stroke="#1a1a1a" stroke-width="2.6"/><line x1="1022.7" y1="839.1" x2="1022.7" y2="824.1" stroke="#1a1a1a" stroke-width="2.6"/><line x1="394" y1="839.1" x2="394" y2="831.1" stroke="#1a1a1a" stroke-width="2.6"/><line x1="645.5" y1="839.1" x2="645.5" y2="831.1" stroke="#1a1a1a" stroke-width="2.6"/><line x1="897" y1="839.1" x2="897" y2="831.1" stroke="#1a1a1a" stroke-width="2.6"/><text x="249.5" y="141.6" font-family="'Liberation Sans', Arial, sans-serif" font-size="71" text-anchor="end" fill="#000000" >0</text><text x="249.5" y="380.1" font-family="'Liberation Sans', Arial, sans-serif" font-size="71" text-anchor="end" fill="#000000" >-50</text><text x="249.5" y="618.6" font-family="'Liberation Sans', Arial, sans-serif" font-size="71" text-anchor="end" fill="#000000" >-100</text><text x="249.5" y="857.1" font-family="'Liberation Sans', Arial, sans-serif" font-size="71" text-anchor="end" fill="#000000" >-150</text><text x="267.2" y="909.3" font-family="'Liberation Sans', Arial, sans-serif" font-size="71" text-anchor="middle" fill="#000000" >-0.6</text><text x="518.7" y="909.3" font-family="'Liberation Sans', Arial, sans-serif" font-size="71" text-anchor="middle" fill="#000000" >-0.4</text><text x="770.2" y="909.3" font-family="'Liberation Sans', Arial, sans-serif" font-size="71" text-anchor="middle" fill="#000000" >-0.2</text><text x="1021.7" y="909.3" font-family="'Liberation Sans', Arial, sans-serif" font-size="71" text-anchor="middle" fill="#000000" >0.0</text><text x="668.5" y="1000" font-family="'Liberation Sans', Arial, sans-serif" font-size="69.2" text-anchor="middle" fill="#000000" ><tspan font-style="italic">E</tspan> (V vs RHE)</text><text x="0" y="0" font-family="'Liberation Sans', Arial, sans-serif" font-size="70" text-anchor="middle" fill="#000000" transform="translate(77.5 443) rotate(-90)" ><tspan font-style="italic">j</tspan> (mA.cm<tspan font-size="45" dy="-27">-2</tspan><tspan dy="27">)</tspan></text><text x="303" y="128" font-family="'Liberation Serif', 'Times New Roman', serif" font-size="88.5" text-anchor="start" fill="#000000" >(a)</text><line x1="764" y1="640.8" x2="888" y2="640.8" stroke="#000000" stroke-width="6.2"/><polygon points="827,622.2 810.9,631.5 810.9,650.1 827,659.4 843.1,650.1 843.1,631.5" fill="#fff" stroke="#000000" stroke-width="6.4" stroke-linejoin="round"/><text x="899" y="657.8" font-family="'Liberation Sans', Arial, sans-serif" font-size="54" text-anchor="start" fill="#000000" >MoSe<tspan font-size="38" dy="14">2</tspan></text><line x1="764" y1="718.8" x2="888" y2="718.8" stroke="#ff0000" stroke-width="6"/><polygon points="827,698.3 807.5,712.5 815,735.4 839,735.4 846.5,712.5" fill="#fff" stroke="#ff0000" stroke-width="6" stroke-linejoin="round"/><text x="899" y="735.8" font-family="'Liberation Sans', Arial, sans-serif" font-size="54" text-anchor="start" fill="#ff0000" >MoSe<tspan font-size="38" dy="14">2</tspan><tspan dy="-14">-Gr</tspan></text><line x1="764" y1="795.3" x2="888" y2="795.3" stroke="#00ff00" stroke-width="8"/><polygon points="827,818.8 847.4,783.5 806.6,783.5" fill="#fff" stroke="#00ff00" stroke-width="7.2" stroke-linejoin="round"/><circle cx="827" cy="795.3" r="3.8" fill="#00ff00"/><text x="899" y="812.3" font-family="'Liberation Sans', Arial, sans-serif" font-size="54" text-anchor="start" fill="#00ff00" >Pt/C</text><defs><pattern id="pBrick" patternUnits="userSpaceOnUse" x="1456.5" y="806.2" width="18.8" height="18.8"><g stroke="#0c0c0c" stroke-width="2.3" stroke-linecap="square"><line x1="2" y1="-2" x2="-20.8" y2="20.8"/><line x1="20.8" y1="-2" x2="-2" y2="20.8"/><line x1="39.6" y1="-2" x2="16.8" y2="20.8"/><line x1="9.4" y1="9.4" x2="18.8" y2="18.8"/><line x1="-9.4" y1="-9.4" x2="0" y2="0"/><line x1="-9.4" y1="9.4" x2="0" y2="18.8"/><line x1="9.4" y1="-9.4" x2="18.8" y2="0"/></g></pattern><pattern id="pPlaid" patternUnits="userSpaceOnUse" x="1456.5" y="806.2" width="18.8" height="18.8"><rect width="18.8" height="18.8" fill="#000"/><rect width="18.8" height="9.4" fill="#7a7a7a"/><rect x="0" y="0" width="2.4" height="2.4" fill="#9c9c9c"/><rect x="4.7" y="0" width="2.4" height="2.4" fill="#9c9c9c"/><rect x="9.4" y="0" width="2.4" height="2.4" fill="#9c9c9c"/><rect x="14.1" y="0" width="2.4" height="2.4" fill="#9c9c9c"/><rect x="2.4" y="2.4" width="2.4" height="2.4" fill="#9c9c9c"/><rect x="7.1" y="2.4" width="2.4" height="2.4" fill="#9c9c9c"/><rect x="11.8" y="2.4" width="2.4" height="2.4" fill="#9c9c9c"/><rect x="16.4" y="2.4" width="2.4" height="2.4" fill="#9c9c9c"/><rect x="0" y="4.7" width="2.4" height="2.4" fill="#9c9c9c"/><rect x="4.7" y="4.7" width="2.4" height="2.4" fill="#9c9c9c"/><rect x="9.4" y="4.7" width="2.4" height="2.4" fill="#9c9c9c"/><rect x="14.1" y="4.7" width="2.4" height="2.4" fill="#9c9c9c"/><rect x="2.4" y="7.1" width="2.4" height="2.4" fill="#9c9c9c"/><rect x="7.1" y="7.1" width="2.4" height="2.4" fill="#9c9c9c"/><rect x="11.8" y="7.1" width="2.4" height="2.4" fill="#9c9c9c"/><rect x="16.4" y="7.1" width="2.4" height="2.4" fill="#9c9c9c"/><rect x="9.4" y="9.4" width="9.4" height="9.4" fill="#fff"/></pattern><pattern id="pDots" patternUnits="userSpaceOnUse" x="1456.5" y="806.2" width="18.8" height="18.8"><rect width="18.8" height="18.8" fill="#000"/><rect x="0" y="0" width="2.8" height="2.8" fill="#fff"/><rect x="4.7" y="0" width="2.8" height="2.8" fill="#fff"/><rect x="9.4" y="0" width="2.8" height="2.8" fill="#fff"/><rect x="14.1" y="0" width="2.8" height="2.8" fill="#fff"/><rect x="0" y="4.7" width="2.8" height="2.8" fill="#fff"/><rect x="0" y="9.4" width="2.8" height="2.8" fill="#fff"/><rect x="0" y="14.1" width="2.8" height="2.8" fill="#fff"/></pattern><mask id="mPlaid" maskUnits="userSpaceOnUse" x="1380" y="40" width="1000" height="800"><rect x="1380" y="40" width="1000" height="800" fill="url(#pPlaid)"/></mask><mask id="mDots" maskUnits="userSpaceOnUse" x="1380" y="40" width="1000" height="800"><rect x="1380" y="40" width="1000" height="800" fill="url(#pDots)"/></mask><linearGradient id="gBlk" x1="0" y1="0" x2="0" y2="1"><stop offset="0" stop-color="#000"/><stop offset="0.05" stop-color="#101010"/><stop offset="0.22" stop-color="#4a4a4a"/><stop offset="0.45" stop-color="#868686"/><stop offset="0.62" stop-color="#a0a0a0"/><stop offset="0.8" stop-color="#b6b6b6"/><stop offset="1" stop-color="#c8c8c8"/></linearGradient><linearGradient id="gRedFg" x1="0" y1="0" x2="0" y2="1"><stop offset="0" stop-color="#ff0000"/><stop offset="0.12" stop-color="#ff0808"/><stop offset="1" stop-color="#ff6cff"/></linearGradient><linearGradient id="gGrnBg" x1="0" y1="0" x2="0" y2="1"><stop offset="0" stop-color="#00ff00"/><stop offset="0.1" stop-color="#00ff0c"/><stop offset="0.9" stop-color="#00fff0"/><stop offset="1" stop-color="#00ffff"/></linearGradient><linearGradient id="gGrnFg" x1="0" y1="0" x2="0" y2="1"><stop offset="0" stop-color="#7fa088"/><stop offset="0.4" stop-color="#c080b8"/><stop offset="1" stop-color="#ff5cf4"/></linearGradient></defs><rect x="1409" y="329" width="53" height="503.2" rx="3" fill="url(#gBlk)"/><rect x="1410.3" y="330.3" width="50.4" height="500.6" rx="3" fill="url(#pBrick)" stroke="#101010" stroke-width="2.6"/><text x="1435.5" y="322" font-family="'Liberation Sans', Arial, sans-serif" font-size="42" text-anchor="middle" fill="#000000" >512</text><rect x="1461" y="671.9" width="53.5" height="160.3" rx="2.5" fill="#ff0000"/><rect x="1463.5" y="674.4" width="48.5" height="157.8" fill="url(#gRedFg)" mask="url(#mPlaid)"/><rect x="1512.5" y="790.1" width="55" height="42.1" rx="3" fill="url(#gGrnBg)"/><rect x="1515.5" y="793.1" width="49" height="36.1" fill="url(#gGrnFg)" mask="url(#mDots)"/><rect x="1514.2" y="791.8" width="51.6" height="38.7" rx="2.5" fill="none" stroke="#00ff00" stroke-width="3.4"/><rect x="1604.5" y="100.4" width="53" height="731.8" rx="3" fill="url(#gBlk)"/><rect x="1605.8" y="101.7" width="50.4" height="729.2" rx="3" fill="url(#pBrick)" stroke="#101010" stroke-width="2.6"/><text x="1631" y="93.4" font-family="'Liberation Sans', Arial, sans-serif" font-size="42" text-anchor="middle" fill="#000000" >746</text><rect x="1656.5" y="642.6" width="53.5" height="189.6" rx="2.5" fill="#ff0000"/><rect x="1659" y="645.1" width="48.5" height="187.1" fill="url(#gRedFg)" mask="url(#mPlaid)"/><rect x="1708" y="739.3" width="55" height="92.9" rx="3" fill="url(#gGrnBg)"/><rect x="1711" y="742.3" width="49" height="86.9" fill="url(#gGrnFg)" mask="url(#mDots)"/><rect x="1709.7" y="741" width="51.6" height="89.5" rx="2.5" fill="none" stroke="#00ff00" stroke-width="3.4"/><rect x="1848.9" y="585" width="53.5" height="247.2" rx="2.5" fill="#ff0000"/><rect x="1851.4" y="587.5" width="48.5" height="244.8" fill="url(#gRedFg)" mask="url(#mPlaid)"/><rect x="1900.4" y="604.5" width="55" height="227.7" rx="3" fill="url(#gGrnBg)"/><rect x="1903.4" y="607.5" width="49" height="221.7" fill="url(#gGrnFg)" mask="url(#mDots)"/><rect x="1902.1" y="606.2" width="51.6" height="224.3" rx="2.5" fill="none" stroke="#00ff00" stroke-width="3.4"/><rect x="2044.4" y="527.3" width="53.5" height="304.9" rx="2.5" fill="#ff0000"/><rect x="2046.9" y="529.8" width="48.5" height="302.4" fill="url(#gRedFg)" mask="url(#mPlaid)"/><rect x="2095.9" y="428.6" width="55" height="403.6" rx="3" fill="url(#gGrnBg)"/><rect x="2098.9" y="431.6" width="49" height="397.6" fill="url(#gGrnFg)" mask="url(#mDots)"/><rect x="2097.6" y="430.3" width="51.6" height="400.2" rx="2.5" fill="none" stroke="#00ff00" stroke-width="3.4"/><rect x="2238.1" y="487.3" width="53.5" height="344.9" rx="2.5" fill="#ff0000"/><rect x="2240.6" y="489.8" width="48.5" height="342.4" fill="url(#gRedFg)" mask="url(#mPlaid)"/><rect x="2289.6" y="251.8" width="55" height="580.4" rx="3" fill="url(#gGrnBg)"/><rect x="2292.6" y="254.8" width="49" height="574.4" fill="url(#gGrnFg)" mask="url(#mDots)"/><rect x="2291.3" y="253.5" width="51.6" height="577" rx="2.5" fill="none" stroke="#00ff00" stroke-width="3.4"/><text x="1487.5" y="664.4" font-family="'Liberation Sans', Arial, sans-serif" font-size="42" text-anchor="middle" fill="#ff0000" >161</text><text x="1540" y="782.6" font-family="'Liberation Sans', Arial, sans-serif" font-size="42" text-anchor="middle" fill="#00ff00" >40</text><text x="1683" y="635.1" font-family="'Liberation Sans', Arial, sans-serif" font-size="42" text-anchor="middle" fill="#ff0000" >191</text><text x="1735.5" y="731.8" font-family="'Liberation Sans', Arial, sans-serif" font-size="42" text-anchor="middle" fill="#00ff00" >92</text><text x="1875.4" y="577.5" font-family="'Liberation Sans', Arial, sans-serif" font-size="42" text-anchor="middle" fill="#ff0000" >250</text><text x="1927.9" y="597" font-family="'Liberation Sans', Arial, sans-serif" font-size="42" text-anchor="middle" fill="#00ff00" >230</text><text x="2070.9" y="519.8" font-family="'Liberation Sans', Arial, sans-serif" font-size="42" text-anchor="middle" fill="#ff0000" >309</text><text x="2123.4" y="421.1" font-family="'Liberation Sans', Arial, sans-serif" font-size="42" text-anchor="middle" fill="#00ff00" >410</text><text x="2264.6" y="479.8" font-family="'Liberation Sans', Arial, sans-serif" font-size="42" text-anchor="middle" fill="#ff0000" >350</text><text x="2317.1" y="244.3" font-family="'Liberation Sans', Arial, sans-serif" font-size="42" text-anchor="middle" fill="#00ff00" >591</text><line x1="1389.7" y1="51.2" x2="2366.1" y2="51.2" stroke="#505050" stroke-width="3.7"/><line x1="1392.4" y1="48" x2="1392.4" y2="833.2" stroke="#8a8a8a" stroke-width="1.7"/><line x1="1390.6" y1="48" x2="1390.6" y2="833.2" stroke="#333333" stroke-width="1.9"/><line x1="2365.4" y1="48" x2="2365.4" y2="833.2" stroke="#909090" stroke-width="1.4"/><line x1="2363.7" y1="48" x2="2363.7" y2="833.2" stroke="#2a2a2a" stroke-width="2.0"/><line x1="1389.7" y1="834" x2="2366.1" y2="834" stroke="#b4b4b4" stroke-width="1.7"/><line x1="1389.7" y1="832.2" x2="2366.1" y2="832.2" stroke="#1c1c1c" stroke-width="1.9"/><line x1="1391.5" y1="246.5" x2="1406.5" y2="246.5" stroke="#1a1a1a" stroke-width="2.6"/><line x1="1391.5" y1="441.7" x2="1406.5" y2="441.7" stroke="#1a1a1a" stroke-width="2.6"/><line x1="1391.5" y1="637" x2="1406.5" y2="637" stroke="#1a1a1a" stroke-width="2.6"/><line x1="1391.5" y1="148.8" x2="1399.5" y2="148.8" stroke="#1a1a1a" stroke-width="2.6"/><line x1="1391.5" y1="344.1" x2="1399.5" y2="344.1" stroke="#1a1a1a" stroke-width="2.6"/><line x1="1391.5" y1="539.3" x2="1399.5" y2="539.3" stroke="#1a1a1a" stroke-width="2.6"/><line x1="1391.5" y1="734.6" x2="1399.5" y2="734.6" stroke="#1a1a1a" stroke-width="2.6"/><line x1="1488" y1="832.2" x2="1488" y2="817.2" stroke="#1a1a1a" stroke-width="2.6"/><line x1="1682.7" y1="832.2" x2="1682.7" y2="817.2" stroke="#1a1a1a" stroke-width="2.6"/><line x1="1877.5" y1="832.2" x2="1877.5" y2="817.2" stroke="#1a1a1a" stroke-width="2.6"/><line x1="2071.4" y1="832.2" x2="2071.4" y2="817.2" stroke="#1a1a1a" stroke-width="2.6"/><line x1="2266.7" y1="832.2" x2="2266.7" y2="817.2" stroke="#1a1a1a" stroke-width="2.6"/><line x1="1587" y1="832.2" x2="1587" y2="824.2" stroke="#1a1a1a" stroke-width="2.6"/><line x1="1781.5" y1="832.2" x2="1781.5" y2="824.2" stroke="#1a1a1a" stroke-width="2.6"/><line x1="1974.3" y1="832.2" x2="1974.3" y2="824.2" stroke="#1a1a1a" stroke-width="2.6"/><line x1="2170.2" y1="832.2" x2="2170.2" y2="824.2" stroke="#1a1a1a" stroke-width="2.6"/><text x="1375" y="850.6" font-family="'Liberation Sans', Arial, sans-serif" font-size="67" text-anchor="end" fill="#000000" >0</text><text x="1375" y="655.4" font-family="'Liberation Sans', Arial, sans-serif" font-size="67" text-anchor="end" fill="#000000" >200</text><text x="1375" y="460.1" font-family="'Liberation Sans', Arial, sans-serif" font-size="67" text-anchor="end" fill="#000000" >400</text><text x="1375" y="264.9" font-family="'Liberation Sans', Arial, sans-serif" font-size="67" text-anchor="end" fill="#000000" >600</text><text x="1375" y="69.6" font-family="'Liberation Sans', Arial, sans-serif" font-size="67" text-anchor="end" fill="#000000" >800</text><text x="1486.5" y="899.5" font-family="'Liberation Sans', Arial, sans-serif" font-size="67" text-anchor="middle" fill="#000000" >-10</text><text x="1681.2" y="899.5" font-family="'Liberation Sans', Arial, sans-serif" font-size="67" text-anchor="middle" fill="#000000" >-20</text><text x="1876" y="899.5" font-family="'Liberation Sans', Arial, sans-serif" font-size="67" text-anchor="middle" fill="#000000" >-50</text><text x="2069.9" y="899.5" font-family="'Liberation Sans', Arial, sans-serif" font-size="67" text-anchor="middle" fill="#000000" >-100</text><text x="2265.2" y="899.5" font-family="'Liberation Sans', Arial, sans-serif" font-size="67" text-anchor="middle" fill="#000000" >-150</text><text x="1877" y="993.2" font-family="'Liberation Sans', Arial, sans-serif" font-size="66.5" text-anchor="middle" fill="#000000" textLength="319" lengthAdjust="spacing"><tspan font-style="italic">j</tspan> (mAcm<tspan font-size="44" dy="-26">&#8722;2</tspan><tspan dy="26">)</tspan></text><text x="0" y="0" font-family="'Liberation Sans', Arial, sans-serif" font-size="67" text-anchor="middle" fill="#000000" transform="translate(1241 436) rotate(-90)" ><tspan font-family="'Liberation Serif', 'Times New Roman', serif" font-style="italic" font-size="70">&#951;</tspan> (mV)</text><text x="1427.5" y="152" font-family="'Liberation Serif', 'Times New Roman', serif" font-size="88.5" text-anchor="start" fill="#000000" >(b)</text><rect x="1911" y="66.9" width="115.4" height="55.7" rx="3" fill="url(#gBlk)"/><rect x="1912.3" y="68.2" width="112.8" height="53.1" rx="3" fill="url(#pBrick)" stroke="#101010" stroke-width="2.6"/><rect x="1911" y="139.6" width="115.4" height="59.7" rx="2.5" fill="#ff0000"/><rect x="1913.5" y="142.1" width="110.4" height="57.2" fill="url(#gRedFg)" mask="url(#mPlaid)"/><rect x="1911" y="215.5" width="115.4" height="57.3" rx="3" fill="url(#gGrnBg)"/><rect x="1914" y="218.5" width="109.4" height="51.3" fill="url(#gGrnFg)" mask="url(#mDots)"/><rect x="1912.7" y="217.2" width="112" height="53.9" rx="2.5" fill="none" stroke="#00ff00" stroke-width="3.4"/><text x="2039.5" y="110.2" font-family="'Liberation Sans', Arial, sans-serif" font-size="51" text-anchor="start" fill="#000000" >MoSe<tspan font-size="37" dy="17">2</tspan></text><text x="2039.5" y="186.9" font-family="'Liberation Sans', Arial, sans-serif" font-size="51" text-anchor="start" fill="#ff0000" >MoSe<tspan font-size="37" dy="17">2</tspan><tspan dy="-17">-Gr</tspan></text><text x="2039.5" y="260.4" font-family="'Liberation Sans', Arial, sans-serif" font-size="51" text-anchor="start" fill="#00ff00" >Pt/C</text><polygon points="783.3,1340.3 773.6,1345.9 773.6,1357.1 783.3,1362.7 793,1357.1 793,1345.9" fill="#fff" stroke="#000000" stroke-width="3.9" stroke-linejoin="round"/><polygon points="790.9,1337 781.2,1342.6 781.2,1353.8 790.9,1359.4 800.6,1353.8 800.6,1342.6" fill="#fff" stroke="#000000" stroke-width="3.9" stroke-linejoin="round"/><polygon points="798.5,1333.7 788.8,1339.3 788.8,1350.5 798.5,1356.1 808.2,1350.5 808.2,1339.3" fill="#fff" stroke="#000000" stroke-width="3.9" stroke-linejoin="round"/><polygon points="806,1330.5 796.3,1336.1 796.3,1347.3 806,1352.9 815.7,1347.3 815.7,1336.1" fill="#fff" stroke="#000000" stroke-width="3.9" stroke-linejoin="round"/><polygon points="813.3,1327.2 803.6,1332.8 803.6,1344 813.3,1349.6 823,1344 823,1332.8" fill="#fff" stroke="#000000" stroke-width="3.9" stroke-linejoin="round"/><polygon points="820.6,1323.8 810.9,1329.4 810.9,1340.6 820.6,1346.2 830.3,1340.6 830.3,1329.4" fill="#fff" stroke="#000000" stroke-width="3.9" stroke-linejoin="round"/><polygon points="827.7,1320.5 818,1326.1 818,1337.3 827.7,1342.9 837.4,1337.3 837.4,1326.1" fill="#fff" stroke="#000000" stroke-width="3.9" stroke-linejoin="round"/><polygon points="834.7,1317.1 825,1322.7 825,1333.9 834.7,1339.5 844.4,1333.9 844.4,1322.7" fill="#fff" stroke="#000000" stroke-width="3.9" stroke-linejoin="round"/><polygon points="841.6,1313.7 831.9,1319.3 831.9,1330.5 841.6,1336.1 851.3,1330.5 851.3,1319.3" fill="#fff" stroke="#000000" stroke-width="3.9" stroke-linejoin="round"/><polygon points="848.3,1310.2 838.6,1315.8 838.6,1327 848.3,1332.6 858,1327 858,1315.8" fill="#fff" stroke="#000000" stroke-width="3.9" stroke-linejoin="round"/><polygon points="854.9,1306.8 845.2,1312.4 845.2,1323.6 854.9,1329.2 864.6,1323.6 864.6,1312.4" fill="#fff" stroke="#000000" stroke-width="3.9" stroke-linejoin="round"/><polygon points="861.5,1303.4 851.8,1309 851.8,1320.2 861.5,1325.8 871.2,1320.2 871.2,1309" fill="#fff" stroke="#000000" stroke-width="3.9" stroke-linejoin="round"/><polygon points="867.9,1300 858.2,1305.6 858.2,1316.8 867.9,1322.4 877.6,1316.8 877.6,1305.6" fill="#fff" stroke="#000000" stroke-width="3.9" stroke-linejoin="round"/><polygon points="874.2,1296.6 864.5,1302.2 864.5,1313.4 874.2,1319 883.9,1313.4 883.9,1302.2" fill="#fff" stroke="#000000" stroke-width="3.9" stroke-linejoin="round"/><polygon points="880.4,1293.2 870.7,1298.8 870.7,1310 880.4,1315.6 890.1,1310 890.1,1298.8" fill="#fff" stroke="#000000" stroke-width="3.9" stroke-linejoin="round"/><polygon points="886.4,1289.8 876.7,1295.4 876.7,1306.6 886.4,1312.2 896.1,1306.6 896.1,1295.4" fill="#fff" stroke="#000000" stroke-width="3.9" stroke-linejoin="round"/><polygon points="892.3,1286.4 882.6,1292 882.6,1303.2 892.3,1308.8 902,1303.2 902,1292" fill="#fff" stroke="#000000" stroke-width="3.9" stroke-linejoin="round"/><polygon points="898.1,1282.9 888.4,1288.5 888.4,1299.7 898.1,1305.3 907.8,1299.7 907.8,1288.5" fill="#fff" stroke="#000000" stroke-width="3.9" stroke-linejoin="round"/><polygon points="903.8,1279.5 894.1,1285.1 894.1,1296.3 903.8,1301.9 913.5,1296.3 913.5,1285.1" fill="#fff" stroke="#000000" stroke-width="3.9" stroke-linejoin="round"/><polygon points="909.3,1276.1 899.6,1281.7 899.6,1292.9 909.3,1298.5 919,1292.9 919,1281.7" fill="#fff" stroke="#000000" stroke-width="3.9" stroke-linejoin="round"/><polygon points="914.7,1272.6 905,1278.2 905,1289.4 914.7,1295 924.4,1289.4 924.4,1278.2" fill="#fff" stroke="#000000" stroke-width="3.9" stroke-linejoin="round"/><polygon points="920.1,1269.2 910.4,1274.8 910.4,1286 920.1,1291.6 929.8,1286 929.8,1274.8" fill="#fff" stroke="#000000" stroke-width="3.9" stroke-linejoin="round"/><polygon points="925.2,1265.8 915.5,1271.4 915.5,1282.6 925.2,1288.2 934.9,1282.6 934.9,1271.4" fill="#fff" stroke="#000000" stroke-width="3.9" stroke-linejoin="round"/><polygon points="930.3,1262.3 920.6,1267.9 920.6,1279.1 930.3,1284.7 940,1279.1 940,1267.9" fill="#fff" stroke="#000000" stroke-width="3.9" stroke-linejoin="round"/><polygon points="935.2,1258.9 925.5,1264.5 925.5,1275.7 935.2,1281.3 944.9,1275.7 944.9,1264.5" fill="#fff" stroke="#000000" stroke-width="3.9" stroke-linejoin="round"/><polygon points="940.1,1255.5 930.4,1261.1 930.4,1272.3 940.1,1277.9 949.8,1272.3 949.8,1261.1" fill="#fff" stroke="#000000" stroke-width="3.9" stroke-linejoin="round"/><polygon points="944.8,1252.1 935.1,1257.7 935.1,1268.9 944.8,1274.5 954.5,1268.9 954.5,1257.7" fill="#fff" stroke="#000000" stroke-width="3.9" stroke-linejoin="round"/><polygon points="949.3,1248.6 939.6,1254.2 939.6,1265.4 949.3,1271 959,1265.4 959,1254.2" fill="#fff" stroke="#000000" stroke-width="3.9" stroke-linejoin="round"/><polygon points="953.8,1245.2 944.1,1250.8 944.1,1262 953.8,1267.6 963.5,1262 963.5,1250.8" fill="#fff" stroke="#000000" stroke-width="3.9" stroke-linejoin="round"/><polygon points="958.2,1241.8 948.5,1247.4 948.5,1258.6 958.2,1264.2 967.9,1258.6 967.9,1247.4" fill="#fff" stroke="#000000" stroke-width="3.9" stroke-linejoin="round"/><polygon points="962.4,1238.5 952.7,1244.1 952.7,1255.3 962.4,1260.9 972.1,1255.3 972.1,1244.1" fill="#fff" stroke="#000000" stroke-width="3.9" stroke-linejoin="round"/><polygon points="966.6,1235.1 956.9,1240.7 956.9,1251.9 966.6,1257.5 976.3,1251.9 976.3,1240.7" fill="#fff" stroke="#000000" stroke-width="3.9" stroke-linejoin="round"/><polygon points="970.7,1231.8 961,1237.4 961,1248.6 970.7,1254.2 980.4,1248.6 980.4,1237.4" fill="#fff" stroke="#000000" stroke-width="3.9" stroke-linejoin="round"/><polygon points="974.7,1228.6 965,1234.2 965,1245.4 974.7,1251 984.4,1245.4 984.4,1234.2" fill="#fff" stroke="#000000" stroke-width="3.9" stroke-linejoin="round"/><polygon points="978.6,1225.3 968.9,1230.9 968.9,1242.1 978.6,1247.7 988.3,1242.1 988.3,1230.9" fill="#fff" stroke="#000000" stroke-width="3.9" stroke-linejoin="round"/><polygon points="982.4,1222.1 972.7,1227.7 972.7,1238.9 982.4,1244.5 992.1,1238.9 992.1,1227.7" fill="#fff" stroke="#000000" stroke-width="3.9" stroke-linejoin="round"/><polygon points="986.1,1219 976.4,1224.6 976.4,1235.8 986.1,1241.4 995.8,1235.8 995.8,1224.6" fill="#fff" stroke="#000000" stroke-width="3.9" stroke-linejoin="round"/><polygon points="989.8,1215.8 980.1,1221.4 980.1,1232.6 989.8,1238.2 999.5,1232.6 999.5,1221.4" fill="#fff" stroke="#000000" stroke-width="3.9" stroke-linejoin="round"/><polygon points="993.3,1212.7 983.6,1218.3 983.6,1229.5 993.3,1235.1 1003,1229.5 1003,1218.3" fill="#fff" stroke="#000000" stroke-width="3.9" stroke-linejoin="round"/><polygon points="996.8,1209.6 987.1,1215.2 987.1,1226.4 996.8,1232 1006.5,1226.4 1006.5,1215.2" fill="#fff" stroke="#000000" stroke-width="3.9" stroke-linejoin="round"/><polygon points="1000.1,1206.5 990.4,1212.1 990.4,1223.3 1000.1,1228.9 1009.8,1223.3 1009.8,1212.1" fill="#fff" stroke="#000000" stroke-width="3.9" stroke-linejoin="round"/><polygon points="1003.3,1203.4 993.6,1209 993.6,1220.2 1003.3,1225.8 1013,1220.2 1013,1209" fill="#fff" stroke="#000000" stroke-width="3.9" stroke-linejoin="round"/><polygon points="1006.4,1200.3 996.7,1205.9 996.7,1217.1 1006.4,1222.7 1016.1,1217.1 1016.1,1205.9" fill="#fff" stroke="#000000" stroke-width="3.9" stroke-linejoin="round"/><polygon points="1009.3,1197.1 999.6,1202.7 999.6,1213.9 1009.3,1219.5 1019,1213.9 1019,1202.7" fill="#fff" stroke="#000000" stroke-width="3.9" stroke-linejoin="round"/><polygon points="1012.2,1194 1002.5,1199.6 1002.5,1210.8 1012.2,1216.4 1021.9,1210.8 1021.9,1199.6" fill="#fff" stroke="#000000" stroke-width="3.9" stroke-linejoin="round"/><polygon points="1015,1190.9 1005.3,1196.5 1005.3,1207.7 1015,1213.3 1024.7,1207.7 1024.7,1196.5" fill="#fff" stroke="#000000" stroke-width="3.9" stroke-linejoin="round"/><polygon points="1017.7,1187.9 1008,1193.5 1008,1204.7 1017.7,1210.3 1027.4,1204.7 1027.4,1193.5" fill="#fff" stroke="#000000" stroke-width="3.9" stroke-linejoin="round"/><polygon points="1020.3,1184.8 1010.6,1190.4 1010.6,1201.6 1020.3,1207.2 1030,1201.6 1030,1190.4" fill="#fff" stroke="#000000" stroke-width="3.9" stroke-linejoin="round"/><polygon points="1022.7,1181.8 1013,1187.4 1013,1198.6 1022.7,1204.2 1032.4,1198.6 1032.4,1187.4" fill="#fff" stroke="#000000" stroke-width="3.9" stroke-linejoin="round"/><polygon points="1025.1,1178.7 1015.4,1184.3 1015.4,1195.5 1025.1,1201.1 1034.8,1195.5 1034.8,1184.3" fill="#fff" stroke="#000000" stroke-width="3.9" stroke-linejoin="round"/><polygon points="1027.4,1175.7 1017.7,1181.3 1017.7,1192.5 1027.4,1198.1 1037.1,1192.5 1037.1,1181.3" fill="#fff" stroke="#000000" stroke-width="3.9" stroke-linejoin="round"/><polygon points="1029.7,1172.7 1020,1178.3 1020,1189.5 1029.7,1195.1 1039.4,1189.5 1039.4,1178.3" fill="#fff" stroke="#000000" stroke-width="3.9" stroke-linejoin="round"/><polygon points="1031.8,1169.8 1022.1,1175.4 1022.1,1186.6 1031.8,1192.2 1041.5,1186.6 1041.5,1175.4" fill="#fff" stroke="#000000" stroke-width="3.9" stroke-linejoin="round"/><polygon points="1034,1166.9 1024.3,1172.5 1024.3,1183.7 1034,1189.3 1043.7,1183.7 1043.7,1172.5" fill="#fff" stroke="#000000" stroke-width="3.9" stroke-linejoin="round"/><polygon points="1036,1164.1 1026.3,1169.7 1026.3,1180.9 1036,1186.5 1045.7,1180.9 1045.7,1169.7" fill="#fff" stroke="#000000" stroke-width="3.9" stroke-linejoin="round"/><polygon points="1038.1,1161.3 1028.4,1166.9 1028.4,1178.1 1038.1,1183.7 1047.8,1178.1 1047.8,1166.9" fill="#fff" stroke="#000000" stroke-width="3.9" stroke-linejoin="round"/><polygon points="1040.1,1158.6 1030.4,1164.2 1030.4,1175.4 1040.1,1181 1049.8,1175.4 1049.8,1164.2" fill="#fff" stroke="#000000" stroke-width="3.9" stroke-linejoin="round"/><polygon points="1042,1155.9 1032.3,1161.5 1032.3,1172.7 1042,1178.3 1051.7,1172.7 1051.7,1161.5" fill="#fff" stroke="#000000" stroke-width="3.9" stroke-linejoin="round"/><polygon points="1043.9,1153.2 1034.2,1158.8 1034.2,1170 1043.9,1175.6 1053.6,1170 1053.6,1158.8" fill="#fff" stroke="#000000" stroke-width="3.9" stroke-linejoin="round"/><polygon points="1045.8,1150.6 1036.1,1156.2 1036.1,1167.4 1045.8,1173 1055.5,1167.4 1055.5,1156.2" fill="#fff" stroke="#000000" stroke-width="3.9" stroke-linejoin="round"/><polygon points="1047.5,1148 1037.8,1153.6 1037.8,1164.8 1047.5,1170.4 1057.2,1164.8 1057.2,1153.6" fill="#fff" stroke="#000000" stroke-width="3.9" stroke-linejoin="round"/><polygon points="1049.3,1145.5 1039.6,1151.1 1039.6,1162.3 1049.3,1167.9 1059,1162.3 1059,1151.1" fill="#fff" stroke="#000000" stroke-width="3.9" stroke-linejoin="round"/><polygon points="1051,1143 1041.3,1148.6 1041.3,1159.8 1051,1165.4 1060.7,1159.8 1060.7,1148.6" fill="#fff" stroke="#000000" stroke-width="3.9" stroke-linejoin="round"/><polygon points="1052.7,1140.5 1043,1146.1 1043,1157.3 1052.7,1162.9 1062.4,1157.3 1062.4,1146.1" fill="#fff" stroke="#000000" stroke-width="3.9" stroke-linejoin="round"/><polygon points="1054.4,1138.2 1044.7,1143.8 1044.7,1155 1054.4,1160.6 1064.1,1155 1064.1,1143.8" fill="#fff" stroke="#000000" stroke-width="3.9" stroke-linejoin="round"/><polygon points="1056,1135.8 1046.3,1141.4 1046.3,1152.6 1056,1158.2 1065.7,1152.6 1065.7,1141.4" fill="#fff" stroke="#000000" stroke-width="3.9" stroke-linejoin="round"/><polygon points="1057.6,1133.5 1047.9,1139.1 1047.9,1150.3 1057.6,1155.9 1067.3,1150.3 1067.3,1139.1" fill="#fff" stroke="#000000" stroke-width="3.9" stroke-linejoin="round"/><polygon points="1059.2,1131.3 1049.5,1136.9 1049.5,1148.1 1059.2,1153.7 1068.9,1148.1 1068.9,1136.9" fill="#fff" stroke="#000000" stroke-width="3.9" stroke-linejoin="round"/><polygon points="1060.7,1129.1 1051,1134.7 1051,1145.9 1060.7,1151.5 1070.4,1145.9 1070.4,1134.7" fill="#fff" stroke="#000000" stroke-width="3.9" stroke-linejoin="round"/><polygon points="1062.3,1126.9 1052.6,1132.5 1052.6,1143.7 1062.3,1149.3 1072,1143.7 1072,1132.5" fill="#fff" stroke="#000000" stroke-width="3.9" stroke-linejoin="round"/><polygon points="1063.8,1124.8 1054.1,1130.4 1054.1,1141.6 1063.8,1147.2 1073.5,1141.6 1073.5,1130.4" fill="#fff" stroke="#000000" stroke-width="3.9" stroke-linejoin="round"/><polygon points="1065.2,1122.7 1055.5,1128.3 1055.5,1139.5 1065.2,1145.1 1074.9,1139.5 1074.9,1128.3" fill="#fff" stroke="#000000" stroke-width="3.9" stroke-linejoin="round"/><polygon points="1066.7,1120.7 1057,1126.3 1057,1137.5 1066.7,1143.1 1076.4,1137.5 1076.4,1126.3" fill="#fff" stroke="#000000" stroke-width="3.9" stroke-linejoin="round"/><polygon points="1068.1,1118.7 1058.4,1124.3 1058.4,1135.5 1068.1,1141.1 1077.8,1135.5 1077.8,1124.3" fill="#fff" stroke="#000000" stroke-width="3.9" stroke-linejoin="round"/><polygon points="1069.5,1116.8 1059.8,1122.4 1059.8,1133.6 1069.5,1139.2 1079.2,1133.6 1079.2,1122.4" fill="#fff" stroke="#000000" stroke-width="3.9" stroke-linejoin="round"/><polygon points="1070.8,1114.8 1061.1,1120.4 1061.1,1131.6 1070.8,1137.2 1080.5,1131.6 1080.5,1120.4" fill="#fff" stroke="#000000" stroke-width="3.9" stroke-linejoin="round"/><polygon points="1071,1114.6 1061.3,1120.2 1061.3,1131.4 1071,1137 1080.7,1131.4 1080.7,1120.2" fill="#fff" stroke="#000000" stroke-width="3.9" stroke-linejoin="round"/><polygon points="708.3,1550.7 698,1558.2 702,1570.2 714.6,1570.2 718.6,1558.2" fill="#fff" stroke="#ff0000" stroke-width="4.2" stroke-linejoin="round"/><polygon points="732.4,1545.8 722.1,1553.3 726.1,1565.3 738.7,1565.3 742.7,1553.3" fill="#fff" stroke="#ff0000" stroke-width="4.2" stroke-linejoin="round"/><polygon points="755.3,1541 745,1548.5 749,1560.5 761.6,1560.5 765.6,1548.5" fill="#fff" stroke="#ff0000" stroke-width="4.2" stroke-linejoin="round"/><polygon points="781.9,1536.2 771.6,1543.7 775.6,1555.7 788.2,1555.7 792.2,1543.7" fill="#fff" stroke="#ff0000" stroke-width="4.2" stroke-linejoin="round"/><polygon points="808.4,1531.4 798.1,1538.9 802.1,1550.9 814.7,1550.9 818.7,1538.9" fill="#fff" stroke="#ff0000" stroke-width="4.2" stroke-linejoin="round"/><polygon points="836.2,1526.5 825.9,1534 829.9,1546 842.5,1546 846.5,1534" fill="#fff" stroke="#ff0000" stroke-width="4.2" stroke-linejoin="round"/><polygon points="862.7,1521.7 852.4,1529.2 856.4,1541.2 869,1541.2 873,1529.2" fill="#fff" stroke="#ff0000" stroke-width="4.2" stroke-linejoin="round"/><polygon points="890.5,1516.9 880.2,1524.4 884.2,1536.4 896.8,1536.4 900.8,1524.4" fill="#fff" stroke="#ff0000" stroke-width="4.2" stroke-linejoin="round"/><polygon points="917,1511.6 906.7,1519.1 910.7,1531.1 923.3,1531.1 927.3,1519.1" fill="#fff" stroke="#ff0000" stroke-width="4.2" stroke-linejoin="round"/><polygon points="942.3,1507.2 932,1514.7 936,1526.7 948.6,1526.7 952.6,1514.7" fill="#fff" stroke="#ff0000" stroke-width="4.2" stroke-linejoin="round"/><polygon points="966.5,1502.4 956.2,1509.9 960.2,1521.9 972.8,1521.9 976.8,1509.9" fill="#fff" stroke="#ff0000" stroke-width="4.2" stroke-linejoin="round"/><polygon points="990.6,1497.6 980.3,1505.1 984.3,1517.1 996.9,1517.1 1000.9,1505.1" fill="#fff" stroke="#ff0000" stroke-width="4.2" stroke-linejoin="round"/><polygon points="1013.5,1492.8 1003.2,1500.3 1007.2,1512.3 1019.8,1512.3 1023.8,1500.3" fill="#fff" stroke="#ff0000" stroke-width="4.2" stroke-linejoin="round"/><polygon points="1035.2,1486.7 1024.9,1494.2 1028.9,1506.2 1041.5,1506.2 1045.5,1494.2" fill="#fff" stroke="#ff0000" stroke-width="4.2" stroke-linejoin="round"/><polygon points="1055.8,1481.4 1045.5,1488.9 1049.5,1500.9 1062.1,1500.9 1066.1,1488.9" fill="#fff" stroke="#ff0000" stroke-width="4.2" stroke-linejoin="round"/><polygon points="1078.7,1475.9 1068.4,1483.4 1072.4,1495.4 1085,1495.4 1089,1483.4" fill="#fff" stroke="#ff0000" stroke-width="4.2" stroke-linejoin="round"/><line x1="375" y1="1746.5" x2="397" y2="1746.5" stroke="#00ff00" stroke-width="3.2"/><polygon points="355.5,1762.2 368.7,1739.4 342.3,1739.4" fill="#fff" stroke="#00ff00" stroke-width="4.8" stroke-linejoin="round"/><circle cx="355.5" cy="1747" r="1.7" fill="#00ff00"/><polygon points="414.6,1757.2 427.8,1734.4 401.4,1734.4" fill="#fff" stroke="#00ff00" stroke-width="4.8" stroke-linejoin="round"/><circle cx="414.6" cy="1742" r="1.7" fill="#00ff00"/><polygon points="425.5,1756.2 438.7,1733.4 412.3,1733.4" fill="#fff" stroke="#00ff00" stroke-width="4.8" stroke-linejoin="round"/><circle cx="425.5" cy="1741" r="1.7" fill="#00ff00"/><polygon points="435,1754.9 448.2,1732.1 421.8,1732.1" fill="#fff" stroke="#00ff00" stroke-width="4.8" stroke-linejoin="round"/><circle cx="435" cy="1739.7" r="1.7" fill="#00ff00"/><polygon points="444.8,1752.5 458,1729.7 431.6,1729.7" fill="#fff" stroke="#00ff00" stroke-width="4.8" stroke-linejoin="round"/><circle cx="444.8" cy="1737.3" r="1.7" fill="#00ff00"/><polygon points="473.7,1752.5 486.9,1729.7 460.5,1729.7" fill="#fff" stroke="#00ff00" stroke-width="4.8" stroke-linejoin="round"/><circle cx="473.7" cy="1737.3" r="1.7" fill="#00ff00"/><polygon points="472.5,1747.6 485.7,1724.8 459.3,1724.8" fill="#fff" stroke="#00ff00" stroke-width="4.8" stroke-linejoin="round"/><circle cx="472.5" cy="1732.4" r="1.7" fill="#00ff00"/><polygon points="473.7,1740.4 486.9,1717.6 460.5,1717.6" fill="#fff" stroke="#00ff00" stroke-width="4.8" stroke-linejoin="round"/><circle cx="473.7" cy="1725.2" r="1.7" fill="#00ff00"/><polygon points="478.6,1730.7 491.8,1707.9 465.4,1707.9" fill="#fff" stroke="#00ff00" stroke-width="4.8" stroke-linejoin="round"/><circle cx="478.6" cy="1715.5" r="1.7" fill="#00ff00"/><polygon points="502.7,1727.2 515.9,1704.4 489.5,1704.4" fill="#fff" stroke="#00ff00" stroke-width="4.8" stroke-linejoin="round"/><circle cx="502.7" cy="1712" r="1.7" fill="#00ff00"/><polygon points="536.5,1722.2 549.7,1699.4 523.3,1699.4" fill="#fff" stroke="#00ff00" stroke-width="4.8" stroke-linejoin="round"/><circle cx="536.5" cy="1707" r="1.7" fill="#00ff00"/><polygon points="565.4,1721.2 578.6,1698.4 552.2,1698.4" fill="#fff" stroke="#00ff00" stroke-width="4.8" stroke-linejoin="round"/><circle cx="565.4" cy="1706" r="1.7" fill="#00ff00"/><polygon points="572.7,1718.7 585.9,1695.9 559.5,1695.9" fill="#fff" stroke="#00ff00" stroke-width="4.8" stroke-linejoin="round"/><circle cx="572.7" cy="1703.5" r="1.7" fill="#00ff00"/><polygon points="578,1716.2 591.2,1693.4 564.8,1693.4" fill="#fff" stroke="#00ff00" stroke-width="4.8" stroke-linejoin="round"/><circle cx="578" cy="1701" r="1.7" fill="#00ff00"/><polygon points="584.7,1713.8 597.9,1691 571.5,1691" fill="#fff" stroke="#00ff00" stroke-width="4.8" stroke-linejoin="round"/><circle cx="584.7" cy="1698.6" r="1.7" fill="#00ff00"/><polygon points="606.5,1711.4 619.7,1688.6 593.3,1688.6" fill="#fff" stroke="#00ff00" stroke-width="4.8" stroke-linejoin="round"/><circle cx="606.5" cy="1696.2" r="1.7" fill="#00ff00"/><polygon points="613.7,1709 626.9,1686.2 600.5,1686.2" fill="#fff" stroke="#00ff00" stroke-width="4.8" stroke-linejoin="round"/><circle cx="613.7" cy="1693.8" r="1.7" fill="#00ff00"/><polygon points="620,1707.2 633.2,1684.4 606.8,1684.4" fill="#fff" stroke="#00ff00" stroke-width="4.8" stroke-linejoin="round"/><circle cx="620" cy="1692" r="1.7" fill="#00ff00"/><polygon points="642.7,1705.4 655.9,1682.6 629.5,1682.6" fill="#fff" stroke="#00ff00" stroke-width="4.8" stroke-linejoin="round"/><circle cx="642.7" cy="1690.2" r="1.7" fill="#00ff00"/><polygon points="664.4,1703 677.6,1680.2 651.2,1680.2" fill="#fff" stroke="#00ff00" stroke-width="4.8" stroke-linejoin="round"/><circle cx="664.4" cy="1687.8" r="1.7" fill="#00ff00"/><polygon points="683.7,1700.6 696.9,1677.8 670.5,1677.8" fill="#fff" stroke="#00ff00" stroke-width="4.8" stroke-linejoin="round"/><circle cx="683.7" cy="1685.4" r="1.7" fill="#00ff00"/><polygon points="698.2,1699.4 711.4,1676.6 685,1676.6" fill="#fff" stroke="#00ff00" stroke-width="4.8" stroke-linejoin="round"/><circle cx="698.2" cy="1684.2" r="1.7" fill="#00ff00"/><polygon points="724.7,1697 737.9,1674.2 711.5,1674.2" fill="#fff" stroke="#00ff00" stroke-width="4.8" stroke-linejoin="round"/><circle cx="724.7" cy="1681.8" r="1.7" fill="#00ff00"/><polygon points="729,1696.4 742.2,1673.6 715.8,1673.6" fill="#fff" stroke="#00ff00" stroke-width="4.8" stroke-linejoin="round"/><circle cx="729" cy="1681.2" r="1.7" fill="#00ff00"/><polygon points="734.4,1695.8 747.6,1673 721.2,1673" fill="#fff" stroke="#00ff00" stroke-width="4.8" stroke-linejoin="round"/><circle cx="734.4" cy="1680.6" r="1.7" fill="#00ff00"/><line x1="263.5" y1="1058" x2="1150.4" y2="1058" stroke="#505050" stroke-width="3.7"/><line x1="266.2" y1="1054.8" x2="266.2" y2="1849.5" stroke="#8a8a8a" stroke-width="1.7"/><line x1="264.4" y1="1054.8" x2="264.4" y2="1849.5" stroke="#333333" stroke-width="1.9"/><line x1="1149.7" y1="1054.8" x2="1149.7" y2="1849.5" stroke="#909090" stroke-width="1.4"/><line x1="1148" y1="1054.8" x2="1148" y2="1849.5" stroke="#2a2a2a" stroke-width="2.0"/><line x1="263.5" y1="1850.3" x2="1150.4" y2="1850.3" stroke="#b4b4b4" stroke-width="1.7"/><line x1="263.5" y1="1848.5" x2="1150.4" y2="1848.5" stroke="#1c1c1c" stroke-width="1.9"/><line x1="265.3" y1="1255.1" x2="280.3" y2="1255.1" stroke="#1a1a1a" stroke-width="2.6"/><line x1="265.3" y1="1452.7" x2="280.3" y2="1452.7" stroke="#1a1a1a" stroke-width="2.6"/><line x1="265.3" y1="1650.3" x2="280.3" y2="1650.3" stroke="#1a1a1a" stroke-width="2.6"/><line x1="265.3" y1="1156.3" x2="273.3" y2="1156.3" stroke="#1a1a1a" stroke-width="2.6"/><line x1="265.3" y1="1353.9" x2="273.3" y2="1353.9" stroke="#1a1a1a" stroke-width="2.6"/><line x1="265.3" y1="1551.5" x2="273.3" y2="1551.5" stroke="#1a1a1a" stroke-width="2.6"/><line x1="265.3" y1="1749.1" x2="273.3" y2="1749.1" stroke="#1a1a1a" stroke-width="2.6"/><line x1="353.2" y1="1848.5" x2="353.2" y2="1833.5" stroke="#1a1a1a" stroke-width="2.6"/><line x1="530.1" y1="1848.5" x2="530.1" y2="1833.5" stroke="#1a1a1a" stroke-width="2.6"/><line x1="707" y1="1848.5" x2="707" y2="1833.5" stroke="#1a1a1a" stroke-width="2.6"/><line x1="883.9" y1="1848.5" x2="883.9" y2="1833.5" stroke="#1a1a1a" stroke-width="2.6"/><line x1="1060.8" y1="1848.5" x2="1060.8" y2="1833.5" stroke="#1a1a1a" stroke-width="2.6"/><line x1="441.6" y1="1848.5" x2="441.6" y2="1840.5" stroke="#1a1a1a" stroke-width="2.6"/><line x1="618.5" y1="1848.5" x2="618.5" y2="1840.5" stroke="#1a1a1a" stroke-width="2.6"/><line x1="795.5" y1="1848.5" x2="795.5" y2="1840.5" stroke="#1a1a1a" stroke-width="2.6"/><line x1="972.4" y1="1848.5" x2="972.4" y2="1840.5" stroke="#1a1a1a" stroke-width="2.6"/><text x="248" y="1076.4" font-family="'Liberation Sans', Arial, sans-serif" font-size="68" text-anchor="end" fill="#000000" >-0.6</text><text x="248" y="1274" font-family="'Liberation Sans', Arial, sans-serif" font-size="68" text-anchor="end" fill="#000000" >-0.4</text><text x="248" y="1471.6" font-family="'Liberation Sans', Arial, sans-serif" font-size="68" text-anchor="end" fill="#000000" >-0.2</text><text x="248" y="1669.2" font-family="'Liberation Sans', Arial, sans-serif" font-size="68" text-anchor="end" fill="#000000" >0.0</text><text x="248" y="1866.8" font-family="'Liberation Sans', Arial, sans-serif" font-size="68" text-anchor="end" fill="#000000" >0.2</text><text x="352.7" y="1918" font-family="'Liberation Sans', Arial, sans-serif" font-size="68" text-anchor="middle" fill="#000000" >-1.0</text><text x="529.6" y="1918" font-family="'Liberation Sans', Arial, sans-serif" font-size="68" text-anchor="middle" fill="#000000" >-0.5</text><text x="706.5" y="1918" font-family="'Liberation Sans', Arial, sans-serif" font-size="68" text-anchor="middle" fill="#000000" >0.0</text><text x="883.4" y="1918" font-family="'Liberation Sans', Arial, sans-serif" font-size="68" text-anchor="middle" fill="#000000" >0.5</text><text x="1060.3" y="1918" font-family="'Liberation Sans', Arial, sans-serif" font-size="68" text-anchor="middle" fill="#000000" >1.0</text><text x="684" y="2018" font-family="'Liberation Sans', Arial, sans-serif" font-size="69.8" text-anchor="middle" fill="#000000" >Log <tspan font-style="italic">j</tspan> (mA.cm<tspan font-size="45" dy="-30">-2</tspan><tspan dy="30">)</tspan></text><text x="0" y="0" font-family="'Liberation Sans', Arial, sans-serif" font-size="68.8" text-anchor="middle" fill="#000000" transform="translate(105 1450) rotate(-90)" ><tspan font-style="italic">E</tspan> (V vs RHE)</text><text x="301.5" y="1161" font-family="'Liberation Serif', 'Times New Roman', serif" font-size="88.5" text-anchor="start" fill="#000000" >(c)</text><text x="0" y="0" font-family="'Liberation Sans', Arial, sans-serif" font-size="52" text-anchor="start" fill="#000000" transform="translate(753.6 1329.3) rotate(-31)" letter-spacing="1.7">95 mV.dec<tspan font-size="34" dy="-20">-1</tspan></text><text x="0" y="0" font-family="'Liberation Sans', Arial, sans-serif" font-size="51" text-anchor="start" fill="#000000" transform="translate(987.8 1317) rotate(-44)" letter-spacing="1.3">MoSe<tspan font-size="34" dy="11" dx="3">2</tspan></text><text x="0" y="0" font-family="'Liberation Sans', Arial, sans-serif" font-size="52" text-anchor="start" fill="#ff0000" transform="translate(687.5 1520.2) rotate(-11)" letter-spacing="1.5">67 mV.dec<tspan font-size="34" dy="-20">-1</tspan></text><text x="0" y="0" font-family="'Liberation Sans', Arial, sans-serif" font-size="51" text-anchor="start" fill="#ff0000" transform="translate(844.2 1590.6) rotate(-8)" letter-spacing="1">MoSe<tspan font-size="35" dy="13">2</tspan><tspan dy="-13">-Gr</tspan></text><text x="0" y="0" font-family="'Liberation Sans', Arial, sans-serif" font-size="52" text-anchor="start" fill="#00ff00" transform="translate(363.5 1702) rotate(-6.4)" letter-spacing="1.2">51 mV.dec<tspan font-size="34" dy="-20">-1</tspan></text><text x="0" y="0" font-family="'Liberation Sans', Arial, sans-serif" font-size="53" text-anchor="start" fill="#00ff00" transform="translate(589.2 1779.5) rotate(-6.5)" >Pt/C</text><defs><clipPath id="clipD"><rect x="1461.2" y="1058.2" width="903.2" height="782.8"/></clipPath></defs><g clip-path="url(#clipD)"><polyline points="1461.6,1841 1462.6,1839.9 1463.6,1838.8 1464.7,1837.7 1465.8,1836.5 1466.9,1835.2 1468,1833.9 1469.2,1832.5 1470.5,1830.8 1471.9,1829 1473.4,1826.9 1475.1,1824.5 1477.1,1821.6 1479.5,1818.2 1482.5,1814 1486.3,1808.7" fill="none" stroke="#000000" stroke-width="4.5" stroke-linejoin="round" stroke-linecap="butt" /><line x1="1656.1" y1="1670.6" x2="1657.8" y2="1669.3" stroke="#000000" stroke-width="5.6" stroke-linecap="round"/><line x1="1694.5" y1="1643.4" x2="1709.6" y2="1633.3" stroke="#000000" stroke-width="5.6" stroke-linecap="round"/><line x1="1745.9" y1="1606.9" x2="1758.6" y2="1597" stroke="#000000" stroke-width="5.6" stroke-linecap="round"/><line x1="1795.3" y1="1571.2" x2="1824.8" y2="1552.5" stroke="#000000" stroke-width="5.6" stroke-linecap="round"/><line x1="1860.6" y1="1525.5" x2="1901" y2="1489.6" stroke="#000000" stroke-width="5.6" stroke-linecap="round"/><line x1="1932.8" y1="1457.8" x2="1979" y2="1406" stroke="#000000" stroke-width="5.6" stroke-linecap="round"/><line x1="2008.5" y1="1372" x2="2056.3" y2="1315.7" stroke="#000000" stroke-width="5.6" stroke-linecap="round"/><line x1="2083.4" y1="1279.9" x2="2144.8" y2="1188.9" stroke="#000000" stroke-width="5.6" stroke-linecap="round"/><polygon points="1461.6,1826.4 1476.1,1833.7 1476.1,1848.3 1461.6,1855.6 1447.1,1848.3 1447.1,1833.7" fill="#fff" stroke="#000000" stroke-width="4.5" stroke-linejoin="round"/><polygon points="1462.6,1825.3 1477.1,1832.6 1477.1,1847.2 1462.6,1854.5 1448.1,1847.2 1448.1,1832.6" fill="#fff" stroke="#000000" stroke-width="4.5" stroke-linejoin="round"/><polygon points="1463.6,1824.2 1478.1,1831.5 1478.1,1846.1 1463.6,1853.4 1449.1,1846.1 1449.1,1831.5" fill="#fff" stroke="#000000" stroke-width="4.5" stroke-linejoin="round"/><polygon points="1464.7,1823.1 1479.2,1830.4 1479.2,1845 1464.7,1852.3 1450.2,1845 1450.2,1830.4" fill="#fff" stroke="#000000" stroke-width="4.5" stroke-linejoin="round"/><polygon points="1465.8,1821.9 1480.3,1829.2 1480.3,1843.8 1465.8,1851.1 1451.3,1843.8 1451.3,1829.2" fill="#fff" stroke="#000000" stroke-width="4.5" stroke-linejoin="round"/><polygon points="1466.9,1820.6 1481.4,1827.9 1481.4,1842.5 1466.9,1849.8 1452.4,1842.5 1452.4,1827.9" fill="#fff" stroke="#000000" stroke-width="4.5" stroke-linejoin="round"/><polygon points="1468,1819.3 1482.5,1826.6 1482.5,1841.2 1468,1848.5 1453.5,1841.2 1453.5,1826.6" fill="#fff" stroke="#000000" stroke-width="4.5" stroke-linejoin="round"/><polygon points="1469.2,1817.9 1483.7,1825.2 1483.7,1839.8 1469.2,1847.1 1454.7,1839.8 1454.7,1825.2" fill="#fff" stroke="#000000" stroke-width="4.5" stroke-linejoin="round"/><polygon points="1470.5,1816.2 1485,1823.5 1485,1838.1 1470.5,1845.4 1456,1838.1 1456,1823.5" fill="#fff" stroke="#000000" stroke-width="4.5" stroke-linejoin="round"/><polygon points="1471.9,1814.4 1486.4,1821.7 1486.4,1836.3 1471.9,1843.6 1457.4,1836.3 1457.4,1821.7" fill="#fff" stroke="#000000" stroke-width="4.5" stroke-linejoin="round"/><polygon points="1473.4,1812.3 1487.9,1819.6 1487.9,1834.2 1473.4,1841.5 1458.9,1834.2 1458.9,1819.6" fill="#fff" stroke="#000000" stroke-width="4.5" stroke-linejoin="round"/><polygon points="1475.1,1809.9 1489.6,1817.2 1489.6,1831.8 1475.1,1839.1 1460.6,1831.8 1460.6,1817.2" fill="#fff" stroke="#000000" stroke-width="4.5" stroke-linejoin="round"/><polygon points="1477.1,1807 1491.6,1814.3 1491.6,1828.9 1477.1,1836.2 1462.6,1828.9 1462.6,1814.3" fill="#fff" stroke="#000000" stroke-width="4.5" stroke-linejoin="round"/><polygon points="1479.5,1803.6 1494,1810.9 1494,1825.5 1479.5,1832.8 1465,1825.5 1465,1810.9" fill="#fff" stroke="#000000" stroke-width="4.5" stroke-linejoin="round"/><polygon points="1482.5,1799.4 1497,1806.7 1497,1821.3 1482.5,1828.6 1468,1821.3 1468,1806.7" fill="#fff" stroke="#000000" stroke-width="4.5" stroke-linejoin="round"/><polygon points="1486.3,1794.1 1500.8,1801.4 1500.8,1816 1486.3,1823.3 1471.8,1816 1471.8,1801.4" fill="#fff" stroke="#000000" stroke-width="4.5" stroke-linejoin="round"/><polygon points="1490.6,1788.1 1505.1,1795.4 1505.1,1810 1490.6,1817.3 1476.1,1810 1476.1,1795.4" fill="#fff" stroke="#000000" stroke-width="4.5" stroke-linejoin="round"/><polygon points="1506.6,1771.2 1521.1,1778.5 1521.1,1793.1 1506.6,1800.4 1492.1,1793.1 1492.1,1778.5" fill="#fff" stroke="#000000" stroke-width="4.5" stroke-linejoin="round"/><polygon points="1525.1,1754.4 1539.6,1761.7 1539.6,1776.3 1525.1,1783.6 1510.6,1776.3 1510.6,1761.7" fill="#fff" stroke="#000000" stroke-width="4.5" stroke-linejoin="round"/><polygon points="1545.3,1734.9 1559.8,1742.2 1559.8,1756.8 1545.3,1764.1 1530.8,1756.8 1530.8,1742.2" fill="#fff" stroke="#000000" stroke-width="4.5" stroke-linejoin="round"/><polygon points="1568.9,1714.8 1583.4,1722.1 1583.4,1736.7 1568.9,1744 1554.4,1736.7 1554.4,1722.1" fill="#fff" stroke="#000000" stroke-width="4.5" stroke-linejoin="round"/><polygon points="1598.4,1692 1612.9,1699.3 1612.9,1713.9 1598.4,1721.2 1583.9,1713.9 1583.9,1699.3" fill="#fff" stroke="#000000" stroke-width="4.5" stroke-linejoin="round"/><polygon points="1638,1669.3 1652.5,1676.6 1652.5,1691.2 1638,1698.5 1623.5,1691.2 1623.5,1676.6" fill="#fff" stroke="#000000" stroke-width="4.5" stroke-linejoin="round"/><polygon points="1675.9,1641.4 1690.4,1648.7 1690.4,1663.3 1675.9,1670.6 1661.4,1663.3 1661.4,1648.7" fill="#fff" stroke="#000000" stroke-width="4.5" stroke-linejoin="round"/><polygon points="1728.2,1606.1 1742.7,1613.4 1742.7,1628 1728.2,1635.3 1713.7,1628 1713.7,1613.4" fill="#fff" stroke="#000000" stroke-width="4.5" stroke-linejoin="round"/><polygon points="1776.3,1568.6 1790.8,1575.9 1790.8,1590.5 1776.3,1597.8 1761.8,1590.5 1761.8,1575.9" fill="#fff" stroke="#000000" stroke-width="4.5" stroke-linejoin="round"/><polygon points="1843.8,1525.9 1858.3,1533.2 1858.3,1547.8 1843.8,1555.1 1829.3,1547.8 1829.3,1533.2" fill="#fff" stroke="#000000" stroke-width="4.5" stroke-linejoin="round"/><polygon points="1917.8,1460 1932.3,1467.3 1932.3,1481.9 1917.8,1489.2 1903.3,1481.9 1903.3,1467.3" fill="#fff" stroke="#000000" stroke-width="4.5" stroke-linejoin="round"/><polygon points="1994,1374.6 2008.5,1381.9 2008.5,1396.5 1994,1403.8 1979.5,1396.5 1979.5,1381.9" fill="#fff" stroke="#000000" stroke-width="4.5" stroke-linejoin="round"/><polygon points="2070.8,1283.9 2085.3,1291.2 2085.3,1305.8 2070.8,1313.1 2056.3,1305.8 2056.3,1291.2" fill="#fff" stroke="#000000" stroke-width="4.5" stroke-linejoin="round"/><polygon points="2157.4,1155.7 2171.9,1163 2171.9,1177.6 2157.4,1184.9 2142.9,1177.6 2142.9,1163" fill="#fff" stroke="#000000" stroke-width="4.5" stroke-linejoin="round"/><line x1="1633" y1="1673.5" x2="1633.8" y2="1671.5" stroke="#ff0000" stroke-width="5.6" stroke-linecap="round"/><line x1="1651.2" y1="1630" x2="1659.4" y2="1608.8" stroke="#ff0000" stroke-width="5.6" stroke-linecap="round"/><line x1="1673.6" y1="1566.1" x2="1687.6" y2="1516.5" stroke="#ff0000" stroke-width="5.6" stroke-linecap="round"/><polygon points="1461.5,1826.6 1476,1833.9 1476,1848.5 1461.5,1855.8 1447,1848.5 1447,1833.9" fill="#fff" stroke="#ff0000" stroke-width="4.4" stroke-linejoin="round"/><polygon points="1462.3,1826.3 1476.8,1833.6 1476.8,1848.2 1462.3,1855.5 1447.8,1848.2 1447.8,1833.6" fill="#fff" stroke="#ff0000" stroke-width="4.4" stroke-linejoin="round"/><polygon points="1463.2,1825.9 1477.7,1833.2 1477.7,1847.8 1463.2,1855.1 1448.7,1847.8 1448.7,1833.2" fill="#fff" stroke="#ff0000" stroke-width="4.4" stroke-linejoin="round"/><polygon points="1464,1825.6 1478.5,1832.9 1478.5,1847.5 1464,1854.8 1449.5,1847.5 1449.5,1832.9" fill="#fff" stroke="#ff0000" stroke-width="4.4" stroke-linejoin="round"/><polygon points="1464.9,1825.2 1479.4,1832.5 1479.4,1847.1 1464.9,1854.4 1450.4,1847.1 1450.4,1832.5" fill="#fff" stroke="#ff0000" stroke-width="4.4" stroke-linejoin="round"/><polygon points="1465.8,1824.9 1480.3,1832.2 1480.3,1846.8 1465.8,1854.1 1451.3,1846.8 1451.3,1832.2" fill="#fff" stroke="#ff0000" stroke-width="4.4" stroke-linejoin="round"/><polygon points="1466.7,1824.5 1481.2,1831.8 1481.2,1846.4 1466.7,1853.7 1452.2,1846.4 1452.2,1831.8" fill="#fff" stroke="#ff0000" stroke-width="4.4" stroke-linejoin="round"/><polygon points="1467.7,1824.1 1482.2,1831.4 1482.2,1846 1467.7,1853.3 1453.2,1846 1453.2,1831.4" fill="#fff" stroke="#ff0000" stroke-width="4.4" stroke-linejoin="round"/><polygon points="1468.8,1823.7 1483.3,1831 1483.3,1845.6 1468.8,1852.9 1454.3,1845.6 1454.3,1831" fill="#fff" stroke="#ff0000" stroke-width="4.4" stroke-linejoin="round"/><polygon points="1469.9,1823.3 1484.4,1830.6 1484.4,1845.2 1469.9,1852.5 1455.4,1845.2 1455.4,1830.6" fill="#fff" stroke="#ff0000" stroke-width="4.4" stroke-linejoin="round"/><polygon points="1471.1,1822.8 1485.6,1830.1 1485.6,1844.7 1471.1,1852 1456.6,1844.7 1456.6,1830.1" fill="#fff" stroke="#ff0000" stroke-width="4.4" stroke-linejoin="round"/><polygon points="1472.4,1822.3 1486.9,1829.6 1486.9,1844.2 1472.4,1851.5 1457.9,1844.2 1457.9,1829.6" fill="#fff" stroke="#ff0000" stroke-width="4.4" stroke-linejoin="round"/><polygon points="1473.9,1821.8 1488.4,1829.1 1488.4,1843.7 1473.9,1851 1459.4,1843.7 1459.4,1829.1" fill="#fff" stroke="#ff0000" stroke-width="4.4" stroke-linejoin="round"/><polygon points="1475.6,1821.2 1490.1,1828.5 1490.1,1843.1 1475.6,1850.4 1461.1,1843.1 1461.1,1828.5" fill="#fff" stroke="#ff0000" stroke-width="4.4" stroke-linejoin="round"/><polygon points="1477.5,1820.4 1492,1827.7 1492,1842.3 1477.5,1849.6 1463,1842.3 1463,1827.7" fill="#fff" stroke="#ff0000" stroke-width="4.4" stroke-linejoin="round"/><polygon points="1479.7,1819.6 1494.2,1826.9 1494.2,1841.5 1479.7,1848.8 1465.2,1841.5 1465.2,1826.9" fill="#fff" stroke="#ff0000" stroke-width="4.4" stroke-linejoin="round"/><polygon points="1482.3,1818.7 1496.8,1826 1496.8,1840.6 1482.3,1847.9 1467.8,1840.6 1467.8,1826" fill="#fff" stroke="#ff0000" stroke-width="4.4" stroke-linejoin="round"/><polygon points="1485.4,1817.4 1499.9,1824.7 1499.9,1839.3 1485.4,1846.6 1470.9,1839.3 1470.9,1824.7" fill="#fff" stroke="#ff0000" stroke-width="4.4" stroke-linejoin="round"/><polygon points="1491.7,1814.9 1506.2,1822.2 1506.2,1836.8 1491.7,1844.1 1477.2,1836.8 1477.2,1822.2" fill="#fff" stroke="#ff0000" stroke-width="4.4" stroke-linejoin="round"/><polygon points="1498.6,1810.9 1513.1,1818.2 1513.1,1832.8 1498.6,1840.1 1484.1,1832.8 1484.1,1818.2" fill="#fff" stroke="#ff0000" stroke-width="4.4" stroke-linejoin="round"/><polygon points="1506.4,1806.2 1520.9,1813.5 1520.9,1828.1 1506.4,1835.4 1491.9,1828.1 1491.9,1813.5" fill="#fff" stroke="#ff0000" stroke-width="4.4" stroke-linejoin="round"/><polygon points="1514.1,1802 1528.6,1809.3 1528.6,1823.9 1514.1,1831.2 1499.6,1823.9 1499.6,1809.3" fill="#fff" stroke="#ff0000" stroke-width="4.4" stroke-linejoin="round"/><polygon points="1523.4,1796.6 1537.9,1803.9 1537.9,1818.5 1523.4,1825.8 1508.9,1818.5 1508.9,1803.9" fill="#fff" stroke="#ff0000" stroke-width="4.4" stroke-linejoin="round"/><polygon points="1531.1,1792.6 1545.6,1799.9 1545.6,1814.5 1531.1,1821.8 1516.6,1814.5 1516.6,1799.9" fill="#fff" stroke="#ff0000" stroke-width="4.4" stroke-linejoin="round"/><polygon points="1540.3,1787.8 1554.8,1795.1 1554.8,1809.7 1540.3,1817 1525.8,1809.7 1525.8,1795.1" fill="#fff" stroke="#ff0000" stroke-width="4.4" stroke-linejoin="round"/><polygon points="1548.8,1782.8 1563.3,1790.1 1563.3,1804.7 1548.8,1812 1534.3,1804.7 1534.3,1790.1" fill="#fff" stroke="#ff0000" stroke-width="4.4" stroke-linejoin="round"/><polygon points="1558.1,1776.6 1572.6,1783.9 1572.6,1798.5 1558.1,1805.8 1543.6,1798.5 1543.6,1783.9" fill="#fff" stroke="#ff0000" stroke-width="4.4" stroke-linejoin="round"/><polygon points="1569.7,1768.4 1584.2,1775.7 1584.2,1790.3 1569.7,1797.6 1555.2,1790.3 1555.2,1775.7" fill="#fff" stroke="#ff0000" stroke-width="4.4" stroke-linejoin="round"/><polygon points="1579.5,1757.4 1594,1764.7 1594,1779.3 1579.5,1786.6 1565,1779.3 1565,1764.7" fill="#fff" stroke="#ff0000" stroke-width="4.4" stroke-linejoin="round"/><polygon points="1592,1738.4 1606.5,1745.7 1606.5,1760.3 1592,1767.6 1577.5,1760.3 1577.5,1745.7" fill="#fff" stroke="#ff0000" stroke-width="4.4" stroke-linejoin="round"/><polygon points="1608.5,1711.4 1623,1718.7 1623,1733.3 1608.5,1740.6 1594,1733.3 1594,1718.7" fill="#fff" stroke="#ff0000" stroke-width="4.4" stroke-linejoin="round"/><polygon points="1623.7,1679.4 1638.2,1686.7 1638.2,1701.3 1623.7,1708.6 1609.2,1701.3 1609.2,1686.7" fill="#fff" stroke="#ff0000" stroke-width="4.4" stroke-linejoin="round"/><polygon points="1643.1,1636.4 1657.6,1643.7 1657.6,1658.3 1643.1,1665.6 1628.6,1658.3 1628.6,1643.7" fill="#fff" stroke="#ff0000" stroke-width="4.4" stroke-linejoin="round"/><polygon points="1667.5,1573.2 1682,1580.5 1682,1595.1 1667.5,1602.4 1653,1595.1 1653,1580.5" fill="#fff" stroke="#ff0000" stroke-width="4.4" stroke-linejoin="round"/><polygon points="1693.7,1480.2 1708.2,1487.5 1708.2,1502.1 1693.7,1509.4 1679.2,1502.1 1679.2,1487.5" fill="#fff" stroke="#ff0000" stroke-width="4.4" stroke-linejoin="round"/></g><line x1="1459.4" y1="1058.2" x2="2366.2" y2="1058.2" stroke="#505050" stroke-width="3.7"/><line x1="1462.1" y1="1055" x2="1462.1" y2="1842" stroke="#8a8a8a" stroke-width="1.7"/><line x1="1460.3" y1="1055" x2="1460.3" y2="1842" stroke="#333333" stroke-width="1.9"/><line x1="2365.5" y1="1055" x2="2365.5" y2="1842" stroke="#909090" stroke-width="1.4"/><line x1="2363.8" y1="1055" x2="2363.8" y2="1842" stroke="#2a2a2a" stroke-width="2.0"/><line x1="1459.4" y1="1842.8" x2="2366.2" y2="1842.8" stroke="#b4b4b4" stroke-width="1.7"/><line x1="1459.4" y1="1841" x2="2366.2" y2="1841" stroke="#1c1c1c" stroke-width="1.9"/><line x1="1461.2" y1="1170" x2="1477.2" y2="1170" stroke="#1a1a1a" stroke-width="2.6"/><line x1="1461.2" y1="1393.7" x2="1477.2" y2="1393.7" stroke="#1a1a1a" stroke-width="2.6"/><line x1="1461.2" y1="1617.5" x2="1477.2" y2="1617.5" stroke="#1a1a1a" stroke-width="2.6"/><line x1="1461.2" y1="1281.8" x2="1469.2" y2="1281.8" stroke="#1a1a1a" stroke-width="2.6"/><line x1="1461.2" y1="1505.6" x2="1469.2" y2="1505.6" stroke="#1a1a1a" stroke-width="2.6"/><line x1="1461.2" y1="1729.3" x2="1469.2" y2="1729.3" stroke="#1a1a1a" stroke-width="2.6"/><line x1="1719.1" y1="1841" x2="1719.1" y2="1826" stroke="#1a1a1a" stroke-width="2.6"/><line x1="1976.8" y1="1841" x2="1976.8" y2="1826" stroke="#1a1a1a" stroke-width="2.6"/><line x1="2234.5" y1="1841" x2="2234.5" y2="1826" stroke="#1a1a1a" stroke-width="2.6"/><line x1="1590.2" y1="1841" x2="1590.2" y2="1833" stroke="#1a1a1a" stroke-width="2.6"/><line x1="1848" y1="1841" x2="1848" y2="1833" stroke="#1a1a1a" stroke-width="2.6"/><line x1="2105.7" y1="1841" x2="2105.7" y2="1833" stroke="#1a1a1a" stroke-width="2.6"/><text x="1446.5" y="1857" font-family="'Liberation Sans', Arial, sans-serif" font-size="71" text-anchor="end" fill="#000000" >0</text><text x="1446.5" y="1633.3" font-family="'Liberation Sans', Arial, sans-serif" font-size="71" text-anchor="end" fill="#000000" >200</text><text x="1446.5" y="1409.5" font-family="'Liberation Sans', Arial, sans-serif" font-size="71" text-anchor="end" fill="#000000" >400</text><text x="1446.5" y="1185.8" font-family="'Liberation Sans', Arial, sans-serif" font-size="71" text-anchor="end" fill="#000000" >600</text><text x="1460.9" y="1909.2" font-family="'Liberation Sans', Arial, sans-serif" font-size="71" text-anchor="middle" fill="#000000" >0</text><text x="1718.6" y="1909.2" font-family="'Liberation Sans', Arial, sans-serif" font-size="71" text-anchor="middle" fill="#000000" >200</text><text x="1976.3" y="1909.2" font-family="'Liberation Sans', Arial, sans-serif" font-size="71" text-anchor="middle" fill="#000000" >400</text><text x="2234" y="1909.2" font-family="'Liberation Sans', Arial, sans-serif" font-size="71" text-anchor="middle" fill="#000000" >600</text><text x="1920" y="1988" font-family="'Liberation Sans', Arial, sans-serif" font-size="70.5" text-anchor="middle" fill="#000000" >Z'<tspan font-family="'Liberation Serif', 'Times New Roman', serif">(&#937;)</tspan></text><text x="0" y="0" font-family="'Liberation Sans', Arial, sans-serif" font-size="70.5" text-anchor="middle" fill="#000000" transform="translate(1296 1496.5) rotate(-90)" >-Z''<tspan font-family="'Liberation Serif', 'Times New Roman', serif">(&#937;)</tspan></text><text x="1497" y="1160.3" font-family="'Liberation Serif', 'Times New Roman', serif" font-size="88.5" text-anchor="start" fill="#000000" >(d)</text><line x1="1943" y1="1661.9" x2="1984" y2="1661.9" stroke="#000000" stroke-width="7.2" stroke-linecap="round"/><line x1="2029" y1="1661.9" x2="2070.5" y2="1661.9" stroke="#000000" stroke-width="7.2" stroke-linecap="round"/><polygon points="2006.5,1646.3 2022.1,1654.1 2022.1,1669.7 2006.5,1677.5 1990.9,1669.7 1990.9,1654.1" fill="#fff" stroke="#000000" stroke-width="4.4" stroke-linejoin="round"/><text x="2085" y="1680.3" font-family="'Liberation Sans', Arial, sans-serif" font-size="55.5" text-anchor="start" fill="#000000" letter-spacing="2.3">MoSe<tspan font-size="38" dy="15">2</tspan></text><line x1="1943" y1="1744.7" x2="1984" y2="1744.7" stroke="#ff0000" stroke-width="7.2" stroke-linecap="round"/><line x1="2029" y1="1744.7" x2="2070.5" y2="1744.7" stroke="#ff0000" stroke-width="7.2" stroke-linecap="round"/><polygon points="2006.5,1729.1 2022.1,1736.9 2022.1,1752.5 2006.5,1760.3 1990.9,1752.5 1990.9,1736.9" fill="#fff" stroke="#ff0000" stroke-width="4.4" stroke-linejoin="round"/><text x="2085" y="1763.1" font-family="'Liberation Sans', Arial, sans-serif" font-size="55.5" text-anchor="start" fill="#ff0000" letter-spacing="2.3">MoSe<tspan font-size="38" dy="15">2</tspan><tspan dy="-15">-Gr</tspan></text></svg></body></html>
